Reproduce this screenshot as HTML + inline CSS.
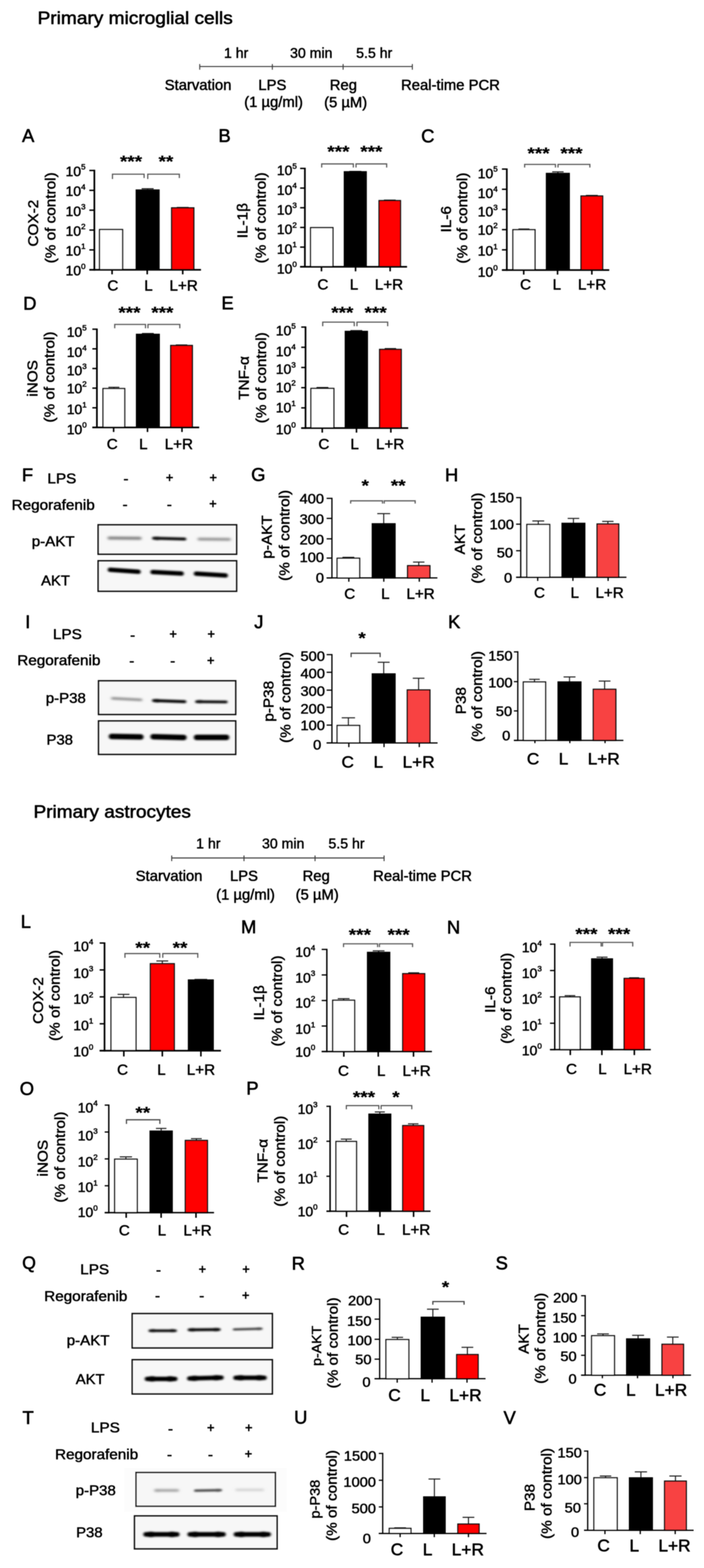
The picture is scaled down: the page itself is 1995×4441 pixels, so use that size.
<!DOCTYPE html>
<html lang="en">
<head>
<meta charset="utf-8">
<title>Regorafenib effects on LPS-induced responses in primary microglial cells and astrocytes</title>
<style>
html,body{margin:0;padding:0;background:#fff;}
body{width:1995px;height:4441px;overflow:hidden;}
svg{display:block;}
text{font-family:"Liberation Sans", sans-serif;fill:#000;stroke:#000;stroke-linejoin:round;}
</style>
</head>
<body>
<svg width="1995" height="4441" viewBox="0 0 1995 4441">
<defs>
<filter id="b1" x="-20%" y="-300%" width="140%" height="700%"><feGaussianBlur stdDeviation="3.2 2.3"/></filter>
<filter id="b2" x="-20%" y="-400%" width="140%" height="900%"><feGaussianBlur stdDeviation="4 3"/></filter>
<filter id="soft" x="0" y="0" width="100%" height="100%" filterUnits="objectBoundingBox"><feGaussianBlur stdDeviation="1.1"/></filter>
</defs>
<rect width="1995" height="4441" fill="#fff"/>
<g id="figure" filter="url(#soft)">
<rect x="282.1" y="650.2" width="65.3" height="113.9" fill="#fff" stroke="#0c0c0c" stroke-width="3.5" />
<line x1="418.4" y1="534.4" x2="418.4" y2="540.0" stroke="#222" stroke-width="3.0" stroke-linecap="butt"/>
<line x1="401.4" y1="534.4" x2="435.4" y2="534.4" stroke="#222" stroke-width="3.0" stroke-linecap="butt"/>
<rect x="386.1" y="538.2" width="64.6" height="225.9" fill="#000" stroke="#000" stroke-width="3.5" />
<line x1="517.8" y1="587.4" x2="517.8" y2="590.5" stroke="#222" stroke-width="3.0" stroke-linecap="butt"/>
<line x1="501.0" y1="587.4" x2="534.6" y2="587.4" stroke="#222" stroke-width="3.0" stroke-linecap="butt"/>
<rect x="486.4" y="588.7" width="62.9" height="175.4" fill="#ff0000" stroke="#0c0c0c" stroke-width="3.5" />
<line x1="267.4" y1="480.8" x2="267.4" y2="766.5" stroke="#000" stroke-width="4.8" stroke-linecap="butt"/>
<line x1="253.2" y1="764.1" x2="569.6" y2="764.1" stroke="#000" stroke-width="4.8" stroke-linecap="butt"/>
<line x1="253.2" y1="482.8" x2="267.4" y2="482.8" stroke="#000" stroke-width="4.0" stroke-linecap="butt"/>
<text transform="translate(242.5 498.9)" font-size="39.5" text-anchor="end" stroke-width="1.15">10<tspan dy="-18.6" font-size="22.9">5</tspan></text>
<line x1="253.2" y1="539.1" x2="267.4" y2="539.1" stroke="#000" stroke-width="4.0" stroke-linecap="butt"/>
<text transform="translate(242.5 555.2)" font-size="39.5" text-anchor="end" stroke-width="1.15">10<tspan dy="-18.6" font-size="22.9">4</tspan></text>
<line x1="253.2" y1="595.3" x2="267.4" y2="595.3" stroke="#000" stroke-width="4.0" stroke-linecap="butt"/>
<text transform="translate(242.5 611.5)" font-size="39.5" text-anchor="end" stroke-width="1.15">10<tspan dy="-18.6" font-size="22.9">3</tspan></text>
<line x1="253.2" y1="651.6" x2="267.4" y2="651.6" stroke="#000" stroke-width="4.0" stroke-linecap="butt"/>
<text transform="translate(242.5 667.7)" font-size="39.5" text-anchor="end" stroke-width="1.15">10<tspan dy="-18.6" font-size="22.9">2</tspan></text>
<line x1="253.2" y1="707.8" x2="267.4" y2="707.8" stroke="#000" stroke-width="4.0" stroke-linecap="butt"/>
<text transform="translate(242.5 724.0)" font-size="39.5" text-anchor="end" stroke-width="1.15">10<tspan dy="-18.6" font-size="22.9">1</tspan></text>
<line x1="253.2" y1="764.1" x2="267.4" y2="764.1" stroke="#000" stroke-width="4.0" stroke-linecap="butt"/>
<text transform="translate(242.5 780.2)" font-size="39.5" text-anchor="end" stroke-width="1.15">10<tspan dy="-18.6" font-size="22.9">0</tspan></text>
<line x1="317.6" y1="764.1" x2="317.6" y2="777.0" stroke="#000" stroke-width="4.4" stroke-linecap="butt"/>
<line x1="417.2" y1="764.1" x2="417.2" y2="777.0" stroke="#000" stroke-width="4.4" stroke-linecap="butt"/>
<line x1="517.8" y1="764.1" x2="517.8" y2="777.0" stroke="#000" stroke-width="4.4" stroke-linecap="butt"/>
<text transform="translate(319.7 823.0)" font-size="43" text-anchor="middle" stroke-width="1.25">C</text>
<text transform="translate(420.8 823.0)" font-size="43" text-anchor="middle" stroke-width="1.25">L</text>
<text transform="translate(520.4 823.0)" font-size="43" text-anchor="middle" stroke-width="1.25">L+R</text>
<text transform="translate(107.6 632.0) rotate(-90) scale(1.07 1)" font-size="40.5" text-anchor="middle" stroke-width="1.17">COX-2</text>
<text transform="translate(156.5 617.0) rotate(-90) scale(1.07 1)" font-size="40.5" text-anchor="middle" stroke-width="1.17">(% of control)</text>
<path d="M318.7 506.9V493.4H408.4V504.3" fill="none" stroke="#5c5c5c" stroke-width="3.4" />
<path d="M418.7 506.9V493.4H508.2V504.3" fill="none" stroke="#5c5c5c" stroke-width="3.4" />
<text transform="translate(371.3 472.8) scale(1.17 1)" font-size="46" text-anchor="middle" font-weight="bold" stroke-width="0.5">***</text>
<text transform="translate(470.2 472.8) scale(1.17 1)" font-size="46" text-anchor="middle" font-weight="bold" stroke-width="0.5">**</text>
<text transform="translate(62.5 402.0)" font-size="52" text-anchor="start" stroke-width="1.51">A</text>
<line x1="911.9" y1="644.4" x2="911.9" y2="646.5" stroke="#222" stroke-width="3.0" stroke-linecap="butt"/>
<line x1="894.5" y1="644.4" x2="929.3" y2="644.4" stroke="#222" stroke-width="3.0" stroke-linecap="butt"/>
<rect x="880.2" y="644.7" width="63.3" height="110.9" fill="#fff" stroke="#0c0c0c" stroke-width="3.5" />
<line x1="1006.8" y1="485.4" x2="1006.8" y2="488.3" stroke="#222" stroke-width="3.0" stroke-linecap="butt"/>
<line x1="989.7" y1="485.4" x2="1023.8" y2="485.4" stroke="#222" stroke-width="3.0" stroke-linecap="butt"/>
<rect x="975.8" y="486.5" width="62.0" height="269.1" fill="#000" stroke="#000" stroke-width="3.5" />
<line x1="1104.6" y1="566.7" x2="1104.6" y2="570.0" stroke="#222" stroke-width="3.0" stroke-linecap="butt"/>
<line x1="1087.9" y1="566.7" x2="1121.3" y2="566.7" stroke="#222" stroke-width="3.0" stroke-linecap="butt"/>
<rect x="1074.2" y="568.2" width="60.7" height="187.4" fill="#ff0000" stroke="#0c0c0c" stroke-width="3.5" />
<line x1="864.0" y1="475.0" x2="864.0" y2="758.0" stroke="#000" stroke-width="4.8" stroke-linecap="butt"/>
<line x1="850.5" y1="755.6" x2="1153.5" y2="755.6" stroke="#000" stroke-width="4.8" stroke-linecap="butt"/>
<line x1="850.5" y1="477.0" x2="864.0" y2="477.0" stroke="#000" stroke-width="4.0" stroke-linecap="butt"/>
<text transform="translate(841.2 496.1)" font-size="39.5" text-anchor="end" stroke-width="1.15">10<tspan dy="-18.6" font-size="22.9">5</tspan></text>
<line x1="850.5" y1="532.7" x2="864.0" y2="532.7" stroke="#000" stroke-width="4.0" stroke-linecap="butt"/>
<text transform="translate(841.2 551.9)" font-size="39.5" text-anchor="end" stroke-width="1.15">10<tspan dy="-18.6" font-size="22.9">4</tspan></text>
<line x1="850.5" y1="588.4" x2="864.0" y2="588.4" stroke="#000" stroke-width="4.0" stroke-linecap="butt"/>
<text transform="translate(841.2 607.6)" font-size="39.5" text-anchor="end" stroke-width="1.15">10<tspan dy="-18.6" font-size="22.9">3</tspan></text>
<line x1="850.5" y1="644.2" x2="864.0" y2="644.2" stroke="#000" stroke-width="4.0" stroke-linecap="butt"/>
<text transform="translate(841.2 663.3)" font-size="39.5" text-anchor="end" stroke-width="1.15">10<tspan dy="-18.6" font-size="22.9">2</tspan></text>
<line x1="850.5" y1="699.9" x2="864.0" y2="699.9" stroke="#000" stroke-width="4.0" stroke-linecap="butt"/>
<text transform="translate(841.2 719.0)" font-size="39.5" text-anchor="end" stroke-width="1.15">10<tspan dy="-18.6" font-size="22.9">1</tspan></text>
<line x1="850.5" y1="755.6" x2="864.0" y2="755.6" stroke="#000" stroke-width="4.0" stroke-linecap="butt"/>
<text transform="translate(841.2 774.7)" font-size="39.5" text-anchor="end" stroke-width="1.15">10<tspan dy="-18.6" font-size="22.9">0</tspan></text>
<line x1="911.0" y1="755.6" x2="911.0" y2="768.5" stroke="#000" stroke-width="4.4" stroke-linecap="butt"/>
<line x1="1007.6" y1="755.6" x2="1007.6" y2="768.5" stroke="#000" stroke-width="4.4" stroke-linecap="butt"/>
<line x1="1105.6" y1="755.6" x2="1105.6" y2="768.5" stroke="#000" stroke-width="4.4" stroke-linecap="butt"/>
<text transform="translate(915.0 819.5)" font-size="43" text-anchor="middle" stroke-width="1.25">C</text>
<text transform="translate(1003.3 819.5)" font-size="43" text-anchor="middle" stroke-width="1.25">L</text>
<text transform="translate(1102.3 819.5)" font-size="43" text-anchor="middle" stroke-width="1.25">L+R</text>
<text transform="translate(700.6 625.0) rotate(-90) scale(1.07 1)" font-size="40.5" text-anchor="middle" stroke-width="1.17">IL-1β</text>
<text transform="translate(753.4 617.0) rotate(-90) scale(1.07 1)" font-size="40.5" text-anchor="middle" stroke-width="1.17">(% of control)</text>
<path d="M911.6 474.6V464.3H1001.3V474.6" fill="none" stroke="#5c5c5c" stroke-width="3.4" />
<path d="M1008.9 474.6V464.3H1095.7V474.6" fill="none" stroke="#5c5c5c" stroke-width="3.4" />
<text transform="translate(959.0 445.1) scale(1.17 1)" font-size="46" text-anchor="middle" font-weight="bold" stroke-width="0.5">***</text>
<text transform="translate(1052.4 445.1) scale(1.17 1)" font-size="46" text-anchor="middle" font-weight="bold" stroke-width="0.5">***</text>
<text transform="translate(619.0 402.0)" font-size="52" text-anchor="start" stroke-width="1.51">B</text>
<line x1="1484.8" y1="648.7" x2="1484.8" y2="652.4" stroke="#222" stroke-width="3.0" stroke-linecap="butt"/>
<line x1="1469.2" y1="648.7" x2="1500.2" y2="648.7" stroke="#222" stroke-width="3.0" stroke-linecap="butt"/>
<rect x="1453.5" y="650.6" width="62.6" height="114.2" fill="#fff" stroke="#0c0c0c" stroke-width="3.5" />
<line x1="1580.9" y1="486.7" x2="1580.9" y2="493.0" stroke="#222" stroke-width="3.0" stroke-linecap="butt"/>
<line x1="1564.7" y1="486.7" x2="1597.2" y2="486.7" stroke="#222" stroke-width="3.0" stroke-linecap="butt"/>
<rect x="1548.5" y="491.2" width="64.7" height="273.6" fill="#000" stroke="#000" stroke-width="3.5" />
<line x1="1677.2" y1="553.6" x2="1677.2" y2="557.0" stroke="#222" stroke-width="3.0" stroke-linecap="butt"/>
<line x1="1660.3" y1="553.6" x2="1694.0" y2="553.6" stroke="#222" stroke-width="3.0" stroke-linecap="butt"/>
<rect x="1646.5" y="555.2" width="61.3" height="209.6" fill="#ff0000" stroke="#0c0c0c" stroke-width="3.5" />
<line x1="1436.2" y1="476.9" x2="1436.2" y2="767.2" stroke="#000" stroke-width="4.8" stroke-linecap="butt"/>
<line x1="1422.4" y1="764.8" x2="1726.5" y2="764.8" stroke="#000" stroke-width="4.8" stroke-linecap="butt"/>
<line x1="1422.4" y1="478.9" x2="1436.2" y2="478.9" stroke="#000" stroke-width="4.0" stroke-linecap="butt"/>
<text transform="translate(1410.5 504.6)" font-size="39.5" text-anchor="end" stroke-width="1.15">10<tspan dy="-18.6" font-size="22.9">5</tspan></text>
<line x1="1422.4" y1="536.1" x2="1436.2" y2="536.1" stroke="#000" stroke-width="4.0" stroke-linecap="butt"/>
<text transform="translate(1410.5 561.1)" font-size="39.5" text-anchor="end" stroke-width="1.15">10<tspan dy="-18.6" font-size="22.9">4</tspan></text>
<line x1="1422.4" y1="593.3" x2="1436.2" y2="593.3" stroke="#000" stroke-width="4.0" stroke-linecap="butt"/>
<text transform="translate(1410.5 613.1)" font-size="39.5" text-anchor="end" stroke-width="1.15">10<tspan dy="-18.6" font-size="22.9">3</tspan></text>
<line x1="1422.4" y1="650.4" x2="1436.2" y2="650.4" stroke="#000" stroke-width="4.0" stroke-linecap="butt"/>
<text transform="translate(1410.5 664.6)" font-size="39.5" text-anchor="end" stroke-width="1.15">10<tspan dy="-18.6" font-size="22.9">2</tspan></text>
<line x1="1422.4" y1="707.6" x2="1436.2" y2="707.6" stroke="#000" stroke-width="4.0" stroke-linecap="butt"/>
<text transform="translate(1410.5 724.1)" font-size="39.5" text-anchor="end" stroke-width="1.15">10<tspan dy="-18.6" font-size="22.9">1</tspan></text>
<line x1="1422.4" y1="764.8" x2="1436.2" y2="764.8" stroke="#000" stroke-width="4.0" stroke-linecap="butt"/>
<text transform="translate(1410.5 784.1)" font-size="39.5" text-anchor="end" stroke-width="1.15">10<tspan dy="-18.6" font-size="22.9">0</tspan></text>
<line x1="1484.1" y1="764.8" x2="1484.1" y2="777.7" stroke="#000" stroke-width="4.4" stroke-linecap="butt"/>
<line x1="1580.0" y1="764.8" x2="1580.0" y2="777.7" stroke="#000" stroke-width="4.4" stroke-linecap="butt"/>
<line x1="1677.2" y1="764.8" x2="1677.2" y2="777.7" stroke="#000" stroke-width="4.4" stroke-linecap="butt"/>
<text transform="translate(1489.3 819.5)" font-size="43" text-anchor="middle" stroke-width="1.25">C</text>
<text transform="translate(1578.0 819.5)" font-size="43" text-anchor="middle" stroke-width="1.25">L</text>
<text transform="translate(1677.9 819.5)" font-size="43" text-anchor="middle" stroke-width="1.25">L+R</text>
<text transform="translate(1278.1 621.0) rotate(-90) scale(1.07 1)" font-size="40.5" text-anchor="middle" stroke-width="1.17">IL-6</text>
<text transform="translate(1324.0 617.7) rotate(-90) scale(1.07 1)" font-size="40.5" text-anchor="middle" stroke-width="1.17">(% of control)</text>
<path d="M1486.7 474.6V465.6H1574.0V474.6" fill="none" stroke="#5c5c5c" stroke-width="3.4" />
<path d="M1581.3 474.6V465.6H1671.5V474.6" fill="none" stroke="#5c5c5c" stroke-width="3.4" />
<text transform="translate(1526.2 449.9) scale(1.17 1)" font-size="46" text-anchor="middle" font-weight="bold" stroke-width="0.5">***</text>
<text transform="translate(1619.5 449.9) scale(1.17 1)" font-size="46" text-anchor="middle" font-weight="bold" stroke-width="0.5">***</text>
<text transform="translate(1193.6 402.5)" font-size="52" text-anchor="start" stroke-width="1.51">C</text>
<line x1="322.7" y1="1096.9" x2="322.7" y2="1102.3" stroke="#222" stroke-width="3.0" stroke-linecap="butt"/>
<line x1="307.2" y1="1096.9" x2="338.2" y2="1096.9" stroke="#222" stroke-width="3.0" stroke-linecap="butt"/>
<rect x="291.9" y="1100.5" width="61.5" height="110.1" fill="#fff" stroke="#0c0c0c" stroke-width="3.5" />
<line x1="419.0" y1="944.4" x2="419.0" y2="948.7" stroke="#222" stroke-width="3.0" stroke-linecap="butt"/>
<line x1="402.1" y1="944.4" x2="435.9" y2="944.4" stroke="#222" stroke-width="3.0" stroke-linecap="butt"/>
<rect x="386.8" y="946.9" width="64.5" height="263.7" fill="#000" stroke="#000" stroke-width="3.5" />
<line x1="514.4" y1="977.1" x2="514.4" y2="980.3" stroke="#222" stroke-width="3.0" stroke-linecap="butt"/>
<line x1="498.2" y1="977.1" x2="530.6" y2="977.1" stroke="#222" stroke-width="3.0" stroke-linecap="butt"/>
<rect x="483.8" y="978.5" width="61.3" height="232.1" fill="#ff0000" stroke="#0c0c0c" stroke-width="3.5" />
<line x1="274.6" y1="930.4" x2="274.6" y2="1213.0" stroke="#000" stroke-width="4.8" stroke-linecap="butt"/>
<line x1="261.7" y1="1210.6" x2="564.5" y2="1210.6" stroke="#000" stroke-width="4.8" stroke-linecap="butt"/>
<line x1="261.7" y1="932.4" x2="274.6" y2="932.4" stroke="#000" stroke-width="4.0" stroke-linecap="butt"/>
<text transform="translate(245.8 954.3)" font-size="39.5" text-anchor="end" stroke-width="1.15">10<tspan dy="-18.6" font-size="22.9">5</tspan></text>
<line x1="261.7" y1="988.0" x2="274.6" y2="988.0" stroke="#000" stroke-width="4.0" stroke-linecap="butt"/>
<text transform="translate(245.8 1011.3)" font-size="39.5" text-anchor="end" stroke-width="1.15">10<tspan dy="-18.6" font-size="22.9">4</tspan></text>
<line x1="261.7" y1="1043.7" x2="274.6" y2="1043.7" stroke="#000" stroke-width="4.0" stroke-linecap="butt"/>
<text transform="translate(245.8 1063.2)" font-size="39.5" text-anchor="end" stroke-width="1.15">10<tspan dy="-18.6" font-size="22.9">3</tspan></text>
<line x1="261.7" y1="1099.3" x2="274.6" y2="1099.3" stroke="#000" stroke-width="4.0" stroke-linecap="butt"/>
<text transform="translate(245.8 1113.7)" font-size="39.5" text-anchor="end" stroke-width="1.15">10<tspan dy="-18.6" font-size="22.9">2</tspan></text>
<line x1="261.7" y1="1155.0" x2="274.6" y2="1155.0" stroke="#000" stroke-width="4.0" stroke-linecap="butt"/>
<text transform="translate(245.8 1172.9)" font-size="39.5" text-anchor="end" stroke-width="1.15">10<tspan dy="-18.6" font-size="22.9">1</tspan></text>
<line x1="261.7" y1="1210.6" x2="274.6" y2="1210.6" stroke="#000" stroke-width="4.0" stroke-linecap="butt"/>
<text transform="translate(245.8 1229.9)" font-size="39.5" text-anchor="end" stroke-width="1.15">10<tspan dy="-18.6" font-size="22.9">0</tspan></text>
<line x1="322.0" y1="1210.6" x2="322.0" y2="1223.5" stroke="#000" stroke-width="4.4" stroke-linecap="butt"/>
<line x1="418.0" y1="1210.6" x2="418.0" y2="1223.5" stroke="#000" stroke-width="4.4" stroke-linecap="butt"/>
<line x1="515.7" y1="1210.6" x2="515.7" y2="1223.5" stroke="#000" stroke-width="4.4" stroke-linecap="butt"/>
<text transform="translate(318.1 1272.1)" font-size="43" text-anchor="middle" stroke-width="1.25">C</text>
<text transform="translate(406.1 1272.1)" font-size="43" text-anchor="middle" stroke-width="1.25">L</text>
<text transform="translate(506.8 1272.1)" font-size="43" text-anchor="middle" stroke-width="1.25">L+R</text>
<text transform="translate(105.7 1071.8) rotate(-90) scale(1.07 1)" font-size="40.5" text-anchor="middle" stroke-width="1.17">iNOS</text>
<text transform="translate(154.0 1067.9) rotate(-90) scale(1.07 1)" font-size="40.5" text-anchor="middle" stroke-width="1.17">(% of control)</text>
<path d="M325.1 929.8V918.9H412.3V929.8" fill="none" stroke="#5c5c5c" stroke-width="3.4" />
<path d="M419.3 929.8V918.9H509.5V929.8" fill="none" stroke="#5c5c5c" stroke-width="3.4" />
<text transform="translate(366.8 901.3) scale(1.17 1)" font-size="46" text-anchor="middle" font-weight="bold" stroke-width="0.5">***</text>
<text transform="translate(460.1 901.3) scale(1.17 1)" font-size="46" text-anchor="middle" font-weight="bold" stroke-width="0.5">***</text>
<text transform="translate(65.7 876.5)" font-size="52" text-anchor="start" stroke-width="1.51">D</text>
<line x1="913.7" y1="1097.4" x2="913.7" y2="1102.0" stroke="#222" stroke-width="3.0" stroke-linecap="butt"/>
<line x1="896.9" y1="1097.4" x2="930.6" y2="1097.4" stroke="#222" stroke-width="3.0" stroke-linecap="butt"/>
<rect x="881.2" y="1100.2" width="64.9" height="112.2" fill="#fff" stroke="#0c0c0c" stroke-width="3.5" />
<line x1="1009.8" y1="936.2" x2="1009.8" y2="940.4" stroke="#222" stroke-width="3.0" stroke-linecap="butt"/>
<line x1="992.9" y1="936.2" x2="1026.6" y2="936.2" stroke="#222" stroke-width="3.0" stroke-linecap="butt"/>
<rect x="978.5" y="938.6" width="62.6" height="273.8" fill="#000" stroke="#000" stroke-width="3.5" />
<line x1="1106.3" y1="987.3" x2="1106.3" y2="991.4" stroke="#222" stroke-width="3.0" stroke-linecap="butt"/>
<line x1="1090.1" y1="987.3" x2="1122.5" y2="987.3" stroke="#222" stroke-width="3.0" stroke-linecap="butt"/>
<rect x="1075.7" y="989.6" width="61.3" height="222.8" fill="#ff0000" stroke="#0c0c0c" stroke-width="3.5" />
<line x1="865.8" y1="924.4" x2="865.8" y2="1214.8" stroke="#000" stroke-width="4.8" stroke-linecap="butt"/>
<line x1="853.6" y1="1212.4" x2="1156.9" y2="1212.4" stroke="#000" stroke-width="4.8" stroke-linecap="butt"/>
<line x1="853.6" y1="926.4" x2="865.8" y2="926.4" stroke="#000" stroke-width="4.0" stroke-linecap="butt"/>
<text transform="translate(838.2 949.9)" font-size="39.5" text-anchor="end" stroke-width="1.15">10<tspan dy="-18.6" font-size="22.9">5</tspan></text>
<line x1="853.6" y1="983.6" x2="865.8" y2="983.6" stroke="#000" stroke-width="4.0" stroke-linecap="butt"/>
<text transform="translate(838.2 1008.7)" font-size="39.5" text-anchor="end" stroke-width="1.15">10<tspan dy="-18.6" font-size="22.9">4</tspan></text>
<line x1="853.6" y1="1040.8" x2="865.8" y2="1040.8" stroke="#000" stroke-width="4.0" stroke-linecap="butt"/>
<text transform="translate(838.2 1059.3)" font-size="39.5" text-anchor="end" stroke-width="1.15">10<tspan dy="-18.6" font-size="22.9">3</tspan></text>
<line x1="853.6" y1="1098.0" x2="865.8" y2="1098.0" stroke="#000" stroke-width="4.0" stroke-linecap="butt"/>
<text transform="translate(838.2 1110.6)" font-size="39.5" text-anchor="end" stroke-width="1.15">10<tspan dy="-18.6" font-size="22.9">2</tspan></text>
<line x1="853.6" y1="1155.2" x2="865.8" y2="1155.2" stroke="#000" stroke-width="4.0" stroke-linecap="butt"/>
<text transform="translate(838.2 1168.2)" font-size="39.5" text-anchor="end" stroke-width="1.15">10<tspan dy="-18.6" font-size="22.9">1</tspan></text>
<line x1="853.6" y1="1212.4" x2="865.8" y2="1212.4" stroke="#000" stroke-width="4.0" stroke-linecap="butt"/>
<text transform="translate(838.2 1229.9)" font-size="39.5" text-anchor="end" stroke-width="1.15">10<tspan dy="-18.6" font-size="22.9">0</tspan></text>
<line x1="913.2" y1="1212.4" x2="913.2" y2="1225.3" stroke="#000" stroke-width="4.4" stroke-linecap="butt"/>
<line x1="1010.2" y1="1212.4" x2="1010.2" y2="1225.3" stroke="#000" stroke-width="4.4" stroke-linecap="butt"/>
<line x1="1107.6" y1="1212.4" x2="1107.6" y2="1225.3" stroke="#000" stroke-width="4.4" stroke-linecap="butt"/>
<text transform="translate(917.9 1272.1)" font-size="43" text-anchor="middle" stroke-width="1.25">C</text>
<text transform="translate(1005.0 1272.1)" font-size="43" text-anchor="middle" stroke-width="1.25">L</text>
<text transform="translate(1105.6 1272.1)" font-size="43" text-anchor="middle" stroke-width="1.25">L+R</text>
<text transform="translate(704.6 1070.5) rotate(-90) scale(1.07 1)" font-size="40.5" text-anchor="middle" stroke-width="1.17">TNF-α</text>
<text transform="translate(754.1 1069.8) rotate(-90) scale(1.07 1)" font-size="40.5" text-anchor="middle" stroke-width="1.17">(% of control)</text>
<path d="M914.5 923.9V912.4H1003.9V923.9" fill="none" stroke="#5c5c5c" stroke-width="3.4" />
<path d="M1011.5 923.9V912.4H1098.6V923.9" fill="none" stroke="#5c5c5c" stroke-width="3.4" />
<text transform="translate(970.1 901.3) scale(1.17 1)" font-size="46" text-anchor="middle" font-weight="bold" stroke-width="0.5">***</text>
<text transform="translate(1064.5 901.3) scale(1.17 1)" font-size="46" text-anchor="middle" font-weight="bold" stroke-width="0.5">***</text>
<text transform="translate(627.5 876.0)" font-size="52" text-anchor="start" stroke-width="1.51">E</text>
<line x1="987.2" y1="1578.4" x2="987.2" y2="1583.0" stroke="#222" stroke-width="3.0" stroke-linecap="butt"/>
<line x1="970.4" y1="1578.4" x2="1004.1" y2="1578.4" stroke="#222" stroke-width="3.0" stroke-linecap="butt"/>
<rect x="955.4" y="1581.2" width="63.8" height="55.6" fill="#fff" stroke="#0c0c0c" stroke-width="3.5" />
<line x1="1087.3" y1="1454.7" x2="1087.3" y2="1485.3" stroke="#222" stroke-width="3.0" stroke-linecap="butt"/>
<line x1="1069.1" y1="1454.7" x2="1105.5" y2="1454.7" stroke="#222" stroke-width="3.0" stroke-linecap="butt"/>
<rect x="1055.0" y="1483.5" width="64.5" height="153.3" fill="#000" stroke="#000" stroke-width="3.5" />
<line x1="1186.6" y1="1591.9" x2="1186.6" y2="1604.0" stroke="#222" stroke-width="3.0" stroke-linecap="butt"/>
<line x1="1170.5" y1="1591.9" x2="1202.7" y2="1591.9" stroke="#222" stroke-width="3.0" stroke-linecap="butt"/>
<rect x="1155.0" y="1602.2" width="63.3" height="34.6" fill="#f84242" stroke="#0c0c0c" stroke-width="3.5" />
<line x1="940.6" y1="1409.8" x2="940.6" y2="1638.6" stroke="#000" stroke-width="3.6" stroke-linecap="butt"/>
<line x1="925.6" y1="1636.8" x2="1239.5" y2="1636.8" stroke="#000" stroke-width="3.6" stroke-linecap="butt"/>
<line x1="925.6" y1="1411.5" x2="940.6" y2="1411.5" stroke="#000" stroke-width="3.4" stroke-linecap="butt"/>
<text transform="translate(918.1 1425.9) scale(1.05 1)" font-size="39.5" text-anchor="end" stroke-width="1.15">400</text>
<line x1="925.6" y1="1468.3" x2="940.6" y2="1468.3" stroke="#000" stroke-width="3.4" stroke-linecap="butt"/>
<text transform="translate(918.1 1484.0) scale(1.05 1)" font-size="39.5" text-anchor="end" stroke-width="1.15">300</text>
<line x1="925.6" y1="1526.1" x2="940.6" y2="1526.1" stroke="#000" stroke-width="3.4" stroke-linecap="butt"/>
<text transform="translate(918.1 1541.5) scale(1.05 1)" font-size="39.5" text-anchor="end" stroke-width="1.15">200</text>
<line x1="925.6" y1="1580.6" x2="940.6" y2="1580.6" stroke="#000" stroke-width="3.4" stroke-linecap="butt"/>
<text transform="translate(918.1 1592.1) scale(1.05 1)" font-size="39.5" text-anchor="end" stroke-width="1.15">100</text>
<line x1="925.6" y1="1636.8" x2="940.6" y2="1636.8" stroke="#000" stroke-width="3.4" stroke-linecap="butt"/>
<text transform="translate(918.1 1649.9) scale(1.05 1)" font-size="39.5" text-anchor="end" stroke-width="1.15">0</text>
<line x1="988.5" y1="1636.8" x2="988.5" y2="1647.6" stroke="#000" stroke-width="3.6" stroke-linecap="butt"/>
<line x1="1087.6" y1="1636.8" x2="1087.6" y2="1647.6" stroke="#000" stroke-width="3.6" stroke-linecap="butt"/>
<line x1="1188.2" y1="1636.8" x2="1188.2" y2="1647.6" stroke="#000" stroke-width="3.6" stroke-linecap="butt"/>
<text transform="translate(991.1 1696.0)" font-size="43" text-anchor="middle" stroke-width="1.25">C</text>
<text transform="translate(1092.0 1696.0)" font-size="43" text-anchor="middle" stroke-width="1.25">L</text>
<text transform="translate(1191.8 1696.0)" font-size="43" text-anchor="middle" stroke-width="1.25">L+R</text>
<text transform="translate(770.0 1521.0) rotate(-90) scale(1.07 1)" font-size="40.5" text-anchor="middle" stroke-width="1.17">p-AKT</text>
<text transform="translate(819.5 1516.4) rotate(-90) scale(1.07 1)" font-size="40.5" text-anchor="middle" stroke-width="1.17">(% of control)</text>
<path d="M993.7 1426.3V1418.5H1083.9V1426.3" fill="none" stroke="#5c5c5c" stroke-width="3.4" />
<path d="M1088.9 1426.3V1418.5H1176.5V1426.3" fill="none" stroke="#5c5c5c" stroke-width="3.4" />
<text transform="translate(1035.0 1390.6) scale(1.17 1)" font-size="46" text-anchor="middle" font-weight="bold" stroke-width="0.5">*</text>
<text transform="translate(1128.5 1390.6) scale(1.17 1)" font-size="46" text-anchor="middle" font-weight="bold" stroke-width="0.5">**</text>
<text transform="translate(711.7 1362.0)" font-size="52" text-anchor="start" stroke-width="1.51">G</text>
<line x1="1525.4" y1="1475.4" x2="1525.4" y2="1487.2" stroke="#222" stroke-width="3.0" stroke-linecap="butt"/>
<line x1="1508.6" y1="1475.4" x2="1542.2" y2="1475.4" stroke="#222" stroke-width="3.0" stroke-linecap="butt"/>
<rect x="1493.0" y="1485.4" width="64.7" height="149.6" fill="#fff" stroke="#0c0c0c" stroke-width="3.5" />
<line x1="1625.0" y1="1468.2" x2="1625.0" y2="1484.0" stroke="#222" stroke-width="3.0" stroke-linecap="butt"/>
<line x1="1608.7" y1="1468.2" x2="1641.4" y2="1468.2" stroke="#222" stroke-width="3.0" stroke-linecap="butt"/>
<rect x="1592.8" y="1482.2" width="64.4" height="152.8" fill="#000" stroke="#000" stroke-width="3.5" />
<line x1="1722.6" y1="1476.7" x2="1722.6" y2="1485.9" stroke="#222" stroke-width="3.0" stroke-linecap="butt"/>
<line x1="1706.5" y1="1476.7" x2="1738.6" y2="1476.7" stroke="#222" stroke-width="3.0" stroke-linecap="butt"/>
<rect x="1692.0" y="1484.1" width="61.3" height="150.9" fill="#f84242" stroke="#0c0c0c" stroke-width="3.5" />
<line x1="1475.6" y1="1407.7" x2="1475.6" y2="1636.8" stroke="#000" stroke-width="3.6" stroke-linecap="butt"/>
<line x1="1462.6" y1="1635.0" x2="1775.2" y2="1635.0" stroke="#000" stroke-width="3.6" stroke-linecap="butt"/>
<line x1="1462.6" y1="1409.4" x2="1475.6" y2="1409.4" stroke="#000" stroke-width="3.4" stroke-linecap="butt"/>
<text transform="translate(1456.4 1422.8) scale(1.05 1)" font-size="39.5" text-anchor="end" stroke-width="1.15">150</text>
<line x1="1462.6" y1="1484.6" x2="1475.6" y2="1484.6" stroke="#000" stroke-width="3.4" stroke-linecap="butt"/>
<text transform="translate(1456.4 1498.7) scale(1.05 1)" font-size="39.5" text-anchor="end" stroke-width="1.15">100</text>
<line x1="1462.6" y1="1559.8" x2="1475.6" y2="1559.8" stroke="#000" stroke-width="3.4" stroke-linecap="butt"/>
<text transform="translate(1453.8 1579.1) scale(1.05 1)" font-size="39.5" text-anchor="end" stroke-width="1.15">50</text>
<line x1="1462.6" y1="1635.0" x2="1475.6" y2="1635.0" stroke="#000" stroke-width="3.4" stroke-linecap="butt"/>
<text transform="translate(1451.2 1649.9) scale(1.05 1)" font-size="39.5" text-anchor="end" stroke-width="1.15">0</text>
<line x1="1523.7" y1="1635.0" x2="1523.7" y2="1645.3" stroke="#000" stroke-width="3.6" stroke-linecap="butt"/>
<line x1="1623.5" y1="1635.0" x2="1623.5" y2="1645.3" stroke="#000" stroke-width="3.6" stroke-linecap="butt"/>
<line x1="1723.3" y1="1635.0" x2="1723.3" y2="1645.3" stroke="#000" stroke-width="3.6" stroke-linecap="butt"/>
<text transform="translate(1528.9 1692.6)" font-size="43" text-anchor="middle" stroke-width="1.25">C</text>
<text transform="translate(1628.6 1692.6)" font-size="43" text-anchor="middle" stroke-width="1.25">L</text>
<text transform="translate(1727.5 1692.6)" font-size="43" text-anchor="middle" stroke-width="1.25">L+R</text>
<text transform="translate(1317.0 1528.0) rotate(-90) scale(1.07 1)" font-size="40.5" text-anchor="middle" stroke-width="1.17">AKT</text>
<text transform="translate(1365.6 1524.2) rotate(-90) scale(1.07 1)" font-size="40.5" text-anchor="middle" stroke-width="1.17">(% of control)</text>
<text transform="translate(1261.0 1362.5)" font-size="52" text-anchor="start" stroke-width="1.51">H</text>
<line x1="987.2" y1="2032.9" x2="987.2" y2="2056.5" stroke="#222" stroke-width="3.0" stroke-linecap="butt"/>
<line x1="968.4" y1="2032.9" x2="1006.1" y2="2032.9" stroke="#222" stroke-width="3.0" stroke-linecap="butt"/>
<rect x="955.4" y="2054.7" width="63.8" height="49.6" fill="#fff" stroke="#0c0c0c" stroke-width="3.5" />
<line x1="1087.3" y1="1875.7" x2="1087.3" y2="1910.5" stroke="#222" stroke-width="3.0" stroke-linecap="butt"/>
<line x1="1070.5" y1="1875.7" x2="1104.1" y2="1875.7" stroke="#222" stroke-width="3.0" stroke-linecap="butt"/>
<rect x="1055.0" y="1908.7" width="64.5" height="195.6" fill="#000" stroke="#000" stroke-width="3.5" />
<line x1="1186.2" y1="1921.1" x2="1186.2" y2="1955.9" stroke="#222" stroke-width="3.0" stroke-linecap="butt"/>
<line x1="1169.7" y1="1921.1" x2="1202.7" y2="1921.1" stroke="#222" stroke-width="3.0" stroke-linecap="butt"/>
<rect x="1154.2" y="1954.1" width="64.1" height="150.2" fill="#f84242" stroke="#0c0c0c" stroke-width="3.5" />
<line x1="940.6" y1="1852.4" x2="940.6" y2="2106.1" stroke="#000" stroke-width="3.6" stroke-linecap="butt"/>
<line x1="925.6" y1="2104.3" x2="1240.0" y2="2104.3" stroke="#000" stroke-width="3.6" stroke-linecap="butt"/>
<line x1="925.6" y1="1854.1" x2="940.6" y2="1854.1" stroke="#000" stroke-width="3.4" stroke-linecap="butt"/>
<text transform="translate(920.7 1872.1) scale(1.05 1)" font-size="39.5" text-anchor="end" stroke-width="1.15">500</text>
<line x1="925.6" y1="1904.1" x2="940.6" y2="1904.1" stroke="#000" stroke-width="3.4" stroke-linecap="butt"/>
<text transform="translate(920.7 1920.8) scale(1.05 1)" font-size="39.5" text-anchor="end" stroke-width="1.15">400</text>
<line x1="925.6" y1="1954.7" x2="940.6" y2="1954.7" stroke="#000" stroke-width="3.4" stroke-linecap="butt"/>
<text transform="translate(920.7 1971.4) scale(1.05 1)" font-size="39.5" text-anchor="end" stroke-width="1.15">300</text>
<line x1="925.6" y1="2003.2" x2="940.6" y2="2003.2" stroke="#000" stroke-width="3.4" stroke-linecap="butt"/>
<text transform="translate(920.7 2021.1) scale(1.05 1)" font-size="39.5" text-anchor="end" stroke-width="1.15">200</text>
<line x1="925.6" y1="2053.7" x2="940.6" y2="2053.7" stroke="#000" stroke-width="3.4" stroke-linecap="butt"/>
<text transform="translate(920.7 2067.8) scale(1.05 1)" font-size="39.5" text-anchor="end" stroke-width="1.15">100</text>
<line x1="925.6" y1="2104.3" x2="940.6" y2="2104.3" stroke="#000" stroke-width="3.4" stroke-linecap="butt"/>
<text transform="translate(910.3 2122.8) scale(1.05 1)" font-size="39.5" text-anchor="end" stroke-width="1.15">0</text>
<line x1="988.5" y1="2104.3" x2="988.5" y2="2116.1" stroke="#000" stroke-width="3.6" stroke-linecap="butt"/>
<line x1="1088.3" y1="2104.3" x2="1088.3" y2="2116.1" stroke="#000" stroke-width="3.6" stroke-linecap="butt"/>
<line x1="1188.2" y1="2104.3" x2="1188.2" y2="2116.1" stroke="#000" stroke-width="3.6" stroke-linecap="butt"/>
<text transform="translate(985.3 2173.5) scale(1.06 1)" font-size="46" text-anchor="middle" stroke-width="1.33">C</text>
<text transform="translate(1072.0 2173.5) scale(1.06 1)" font-size="46" text-anchor="middle" stroke-width="1.33">L</text>
<text transform="translate(1186.2 2173.5) scale(1.06 1)" font-size="46" text-anchor="middle" stroke-width="1.33">L+R</text>
<text transform="translate(775.2 1986.3) rotate(-90) scale(1.07 1)" font-size="40.5" text-anchor="middle" stroke-width="1.17">p-P38</text>
<text transform="translate(823.4 1975.3) rotate(-90) scale(1.07 1)" font-size="40.5" text-anchor="middle" stroke-width="1.17">(% of control)</text>
<path d="M995.0 1861.3V1850.2H1077.2V1861.3" fill="none" stroke="#444" stroke-width="3.4" />
<text transform="translate(1025.9 1822.8) scale(1.17 1)" font-size="46" text-anchor="middle" font-weight="bold" stroke-width="0.5">*</text>
<text transform="translate(720.5 1778.5)" font-size="52" text-anchor="start" stroke-width="1.51">J</text>
<line x1="1514.6" y1="1924.0" x2="1514.6" y2="1933.3" stroke="#222" stroke-width="3.0" stroke-linecap="butt"/>
<line x1="1499.6" y1="1924.0" x2="1529.6" y2="1924.0" stroke="#222" stroke-width="3.0" stroke-linecap="butt"/>
<rect x="1483.0" y="1931.5" width="63.1" height="165.5" fill="#fff" stroke="#0c0c0c" stroke-width="3.5" />
<line x1="1613.9" y1="1917.2" x2="1613.9" y2="1933.3" stroke="#222" stroke-width="3.0" stroke-linecap="butt"/>
<line x1="1597.1" y1="1917.2" x2="1630.8" y2="1917.2" stroke="#222" stroke-width="3.0" stroke-linecap="butt"/>
<rect x="1581.5" y="1931.5" width="64.7" height="165.5" fill="#000" stroke="#000" stroke-width="3.5" />
<line x1="1713.3" y1="1928.9" x2="1713.3" y2="1954.1" stroke="#222" stroke-width="3.0" stroke-linecap="butt"/>
<line x1="1696.7" y1="1928.9" x2="1729.9" y2="1928.9" stroke="#222" stroke-width="3.0" stroke-linecap="butt"/>
<rect x="1681.3" y="1952.3" width="63.9" height="144.7" fill="#f84242" stroke="#0c0c0c" stroke-width="3.5" />
<line x1="1467.3" y1="1844.6" x2="1467.3" y2="2098.8" stroke="#000" stroke-width="3.6" stroke-linecap="butt"/>
<line x1="1456.3" y1="2097.0" x2="1766.5" y2="2097.0" stroke="#000" stroke-width="3.6" stroke-linecap="butt"/>
<line x1="1456.3" y1="1846.3" x2="1467.3" y2="1846.3" stroke="#000" stroke-width="3.4" stroke-linecap="butt"/>
<text transform="translate(1452.6 1871.3) scale(1.05 1)" font-size="39.5" text-anchor="end" stroke-width="1.15">150</text>
<line x1="1456.3" y1="1930.6" x2="1467.3" y2="1930.6" stroke="#000" stroke-width="3.4" stroke-linecap="butt"/>
<text transform="translate(1452.6 1946.5) scale(1.05 1)" font-size="39.5" text-anchor="end" stroke-width="1.15">100</text>
<line x1="1456.3" y1="2013.5" x2="1467.3" y2="2013.5" stroke="#000" stroke-width="3.4" stroke-linecap="butt"/>
<text transform="translate(1451.2 2027.6) scale(1.05 1)" font-size="39.5" text-anchor="end" stroke-width="1.15">50</text>
<line x1="1456.3" y1="2097.0" x2="1467.3" y2="2097.0" stroke="#000" stroke-width="3.4" stroke-linecap="butt"/>
<text transform="translate(1446.1 2096.9) scale(1.05 1)" font-size="39.5" text-anchor="end" stroke-width="1.15">0</text>
<line x1="1515.8" y1="2097.0" x2="1515.8" y2="2104.8" stroke="#000" stroke-width="3.6" stroke-linecap="butt"/>
<line x1="1614.8" y1="2097.0" x2="1614.8" y2="2104.8" stroke="#000" stroke-width="3.6" stroke-linecap="butt"/>
<line x1="1714.6" y1="2097.0" x2="1714.6" y2="2104.8" stroke="#000" stroke-width="3.6" stroke-linecap="butt"/>
<text transform="translate(1510.5 2165.2) scale(1.06 1)" font-size="46" text-anchor="middle" stroke-width="1.33">C</text>
<text transform="translate(1596.8 2165.2) scale(1.06 1)" font-size="46" text-anchor="middle" stroke-width="1.33">L</text>
<text transform="translate(1710.8 2165.2) scale(1.06 1)" font-size="46" text-anchor="middle" stroke-width="1.33">L+R</text>
<text transform="translate(1319.5 1984.4) rotate(-90) scale(1.07 1)" font-size="40.5" text-anchor="middle" stroke-width="1.17">P38</text>
<text transform="translate(1365.7 1972.7) rotate(-90) scale(1.07 1)" font-size="40.5" text-anchor="middle" stroke-width="1.17">(% of control)</text>
<text transform="translate(1269.8 1778.5)" font-size="52" text-anchor="start" stroke-width="1.51">K</text>
<line x1="350.0" y1="2816.3" x2="350.0" y2="2827.0" stroke="#222" stroke-width="3.0" stroke-linecap="butt"/>
<line x1="333.2" y1="2816.3" x2="366.7" y2="2816.3" stroke="#222" stroke-width="3.0" stroke-linecap="butt"/>
<rect x="314.6" y="2825.2" width="70.8" height="150.6" fill="#fff" stroke="#0c0c0c" stroke-width="3.5" />
<line x1="460.0" y1="2721.7" x2="460.0" y2="2731.3" stroke="#222" stroke-width="3.0" stroke-linecap="butt"/>
<line x1="443.2" y1="2721.7" x2="476.7" y2="2721.7" stroke="#222" stroke-width="3.0" stroke-linecap="butt"/>
<rect x="426.1" y="2729.5" width="67.8" height="246.3" fill="#ff0000" stroke="#0c0c0c" stroke-width="3.5" />
<line x1="569.1" y1="2773.9" x2="569.1" y2="2777.4" stroke="#222" stroke-width="3.0" stroke-linecap="butt"/>
<line x1="551.1" y1="2773.9" x2="587.1" y2="2773.9" stroke="#222" stroke-width="3.0" stroke-linecap="butt"/>
<rect x="534.0" y="2775.6" width="70.2" height="200.2" fill="#000" stroke="#000" stroke-width="3.5" />
<line x1="296.2" y1="2668.9" x2="296.2" y2="2978.2" stroke="#000" stroke-width="4.8" stroke-linecap="butt"/>
<line x1="282.4" y1="2975.8" x2="626.1" y2="2975.8" stroke="#000" stroke-width="4.8" stroke-linecap="butt"/>
<line x1="282.4" y1="2670.9" x2="296.2" y2="2670.9" stroke="#000" stroke-width="4.0" stroke-linecap="butt"/>
<text transform="translate(264.5 2693.5)" font-size="39.5" text-anchor="end" stroke-width="1.15">10<tspan dy="-18.6" font-size="22.9">4</tspan></text>
<line x1="282.4" y1="2747.1" x2="296.2" y2="2747.1" stroke="#000" stroke-width="4.0" stroke-linecap="butt"/>
<text transform="translate(264.5 2770.0)" font-size="39.5" text-anchor="end" stroke-width="1.15">10<tspan dy="-18.6" font-size="22.9">3</tspan></text>
<line x1="282.4" y1="2823.4" x2="296.2" y2="2823.4" stroke="#000" stroke-width="4.0" stroke-linecap="butt"/>
<text transform="translate(264.5 2843.1)" font-size="39.5" text-anchor="end" stroke-width="1.15">10<tspan dy="-18.6" font-size="22.9">2</tspan></text>
<line x1="282.4" y1="2899.6" x2="296.2" y2="2899.6" stroke="#000" stroke-width="4.0" stroke-linecap="butt"/>
<text transform="translate(264.5 2917.8)" font-size="39.5" text-anchor="end" stroke-width="1.15">10<tspan dy="-18.6" font-size="22.9">1</tspan></text>
<line x1="282.4" y1="2975.8" x2="296.2" y2="2975.8" stroke="#000" stroke-width="4.0" stroke-linecap="butt"/>
<text transform="translate(264.5 2991.7)" font-size="39.5" text-anchor="end" stroke-width="1.15">10<tspan dy="-18.6" font-size="22.9">0</tspan></text>
<line x1="350.9" y1="2975.8" x2="350.9" y2="2992.2" stroke="#000" stroke-width="4.4" stroke-linecap="butt"/>
<line x1="460.0" y1="2975.8" x2="460.0" y2="2992.2" stroke="#000" stroke-width="4.4" stroke-linecap="butt"/>
<line x1="569.3" y1="2975.8" x2="569.3" y2="2992.2" stroke="#000" stroke-width="4.4" stroke-linecap="butt"/>
<text transform="translate(347.4 3044.2)" font-size="43" text-anchor="middle" stroke-width="1.25">C</text>
<text transform="translate(457.5 3044.2)" font-size="43" text-anchor="middle" stroke-width="1.25">L</text>
<text transform="translate(569.4 3044.2)" font-size="43" text-anchor="middle" stroke-width="1.25">L+R</text>
<text transform="translate(121.7 2833.7) rotate(-90) scale(1.07 1)" font-size="40.5" text-anchor="middle" stroke-width="1.17">COX-2</text>
<text transform="translate(168.6 2819.5) rotate(-90) scale(1.07 1)" font-size="40.5" text-anchor="middle" stroke-width="1.17">(% of control)</text>
<path d="M354.1 2712.7V2700.7H452.7V2712.7" fill="none" stroke="#5c5c5c" stroke-width="3.4" />
<path d="M461.3 2712.7V2700.7H560.4V2712.7" fill="none" stroke="#5c5c5c" stroke-width="3.4" />
<text transform="translate(404.4 2700.0) scale(1.17 1)" font-size="46" text-anchor="middle" font-weight="bold" stroke-width="0.5">**</text>
<text transform="translate(510.2 2700.0) scale(1.17 1)" font-size="46" text-anchor="middle" font-weight="bold" stroke-width="0.5">**</text>
<text transform="translate(58.7 2627.5)" font-size="52" text-anchor="start" stroke-width="1.51">L</text>
<line x1="973.8" y1="2828.4" x2="973.8" y2="2834.8" stroke="#222" stroke-width="3.0" stroke-linecap="butt"/>
<line x1="957.0" y1="2828.4" x2="990.5" y2="2828.4" stroke="#222" stroke-width="3.0" stroke-linecap="butt"/>
<rect x="942.8" y="2833.0" width="62.0" height="145.3" fill="#fff" stroke="#0c0c0c" stroke-width="3.5" />
<line x1="1072.9" y1="2693.0" x2="1072.9" y2="2699.2" stroke="#222" stroke-width="3.0" stroke-linecap="butt"/>
<line x1="1056.2" y1="2693.0" x2="1089.6" y2="2693.0" stroke="#222" stroke-width="3.0" stroke-linecap="butt"/>
<rect x="1041.5" y="2697.4" width="62.9" height="280.9" fill="#000" stroke="#000" stroke-width="3.5" />
<line x1="1172.4" y1="2755.2" x2="1172.4" y2="2759.5" stroke="#222" stroke-width="3.0" stroke-linecap="butt"/>
<line x1="1156.9" y1="2755.2" x2="1187.9" y2="2755.2" stroke="#222" stroke-width="3.0" stroke-linecap="butt"/>
<rect x="1141.3" y="2757.7" width="62.2" height="220.6" fill="#ff0000" stroke="#0c0c0c" stroke-width="3.5" />
<line x1="926.2" y1="2687.2" x2="926.2" y2="2980.3" stroke="#000" stroke-width="4.0" stroke-linecap="butt"/>
<line x1="911.6" y1="2978.3" x2="1224.0" y2="2978.3" stroke="#000" stroke-width="4.0" stroke-linecap="butt"/>
<line x1="911.6" y1="2689.0" x2="926.2" y2="2689.0" stroke="#000" stroke-width="3.6" stroke-linecap="butt"/>
<text transform="translate(893.4 2710.4)" font-size="39.5" text-anchor="end" stroke-width="1.15">10<tspan dy="-18.6" font-size="22.9">4</tspan></text>
<line x1="911.6" y1="2761.3" x2="926.2" y2="2761.3" stroke="#000" stroke-width="3.6" stroke-linecap="butt"/>
<text transform="translate(893.4 2783.0)" font-size="39.5" text-anchor="end" stroke-width="1.15">10<tspan dy="-18.6" font-size="22.9">3</tspan></text>
<line x1="911.6" y1="2833.7" x2="926.2" y2="2833.7" stroke="#000" stroke-width="3.6" stroke-linecap="butt"/>
<text transform="translate(893.4 2854.3)" font-size="39.5" text-anchor="end" stroke-width="1.15">10<tspan dy="-18.6" font-size="22.9">2</tspan></text>
<line x1="911.6" y1="2906.0" x2="926.2" y2="2906.0" stroke="#000" stroke-width="3.6" stroke-linecap="butt"/>
<text transform="translate(893.4 2928.2)" font-size="39.5" text-anchor="end" stroke-width="1.15">10<tspan dy="-18.6" font-size="22.9">1</tspan></text>
<line x1="911.6" y1="2978.3" x2="926.2" y2="2978.3" stroke="#000" stroke-width="3.6" stroke-linecap="butt"/>
<text transform="translate(893.4 2993.0)" font-size="39.5" text-anchor="end" stroke-width="1.15">10<tspan dy="-18.6" font-size="22.9">0</tspan></text>
<line x1="974.3" y1="2978.3" x2="974.3" y2="2992.8" stroke="#000" stroke-width="4.4" stroke-linecap="butt"/>
<line x1="1071.8" y1="2978.3" x2="1071.8" y2="2992.8" stroke="#000" stroke-width="4.4" stroke-linecap="butt"/>
<line x1="1171.8" y1="2978.3" x2="1171.8" y2="2992.8" stroke="#000" stroke-width="4.4" stroke-linecap="butt"/>
<text transform="translate(973.2 3046.9)" font-size="43" text-anchor="middle" stroke-width="1.25">C</text>
<text transform="translate(1080.2 3046.9)" font-size="43" text-anchor="middle" stroke-width="1.25">L</text>
<text transform="translate(1180.5 3046.9)" font-size="43" text-anchor="middle" stroke-width="1.25">L+R</text>
<text transform="translate(747.8 2840.2) rotate(-90) scale(1.07 1)" font-size="40.5" text-anchor="middle" stroke-width="1.17">IL-1β</text>
<text transform="translate(798.6 2835.0) rotate(-90) scale(1.07 1)" font-size="40.5" text-anchor="middle" stroke-width="1.17">(% of control)</text>
<path d="M973.5 2682.4V2673.1H1070.0V2682.4" fill="none" stroke="#5c5c5c" stroke-width="3.4" />
<path d="M1075.3 2682.4V2673.1H1169.1V2682.4" fill="none" stroke="#5c5c5c" stroke-width="3.4" />
<text transform="translate(1019.7 2662.5) scale(1.17 1)" font-size="46" text-anchor="middle" font-weight="bold" stroke-width="0.5">***</text>
<text transform="translate(1129.6 2662.5) scale(1.17 1)" font-size="46" text-anchor="middle" font-weight="bold" stroke-width="0.5">***</text>
<text transform="translate(683.0 2643.0)" font-size="52" text-anchor="start" stroke-width="1.51">M</text>
<line x1="1615.2" y1="2819.9" x2="1615.2" y2="2825.4" stroke="#222" stroke-width="3.0" stroke-linecap="butt"/>
<line x1="1600.2" y1="2819.9" x2="1630.2" y2="2819.9" stroke="#222" stroke-width="3.0" stroke-linecap="butt"/>
<rect x="1586.0" y="2823.6" width="58.2" height="149.2" fill="#fff" stroke="#0c0c0c" stroke-width="3.5" />
<line x1="1706.1" y1="2711.0" x2="1706.1" y2="2717.7" stroke="#222" stroke-width="3.0" stroke-linecap="butt"/>
<line x1="1690.6" y1="2711.0" x2="1721.6" y2="2711.0" stroke="#222" stroke-width="3.0" stroke-linecap="butt"/>
<rect x="1676.8" y="2715.9" width="58.7" height="256.9" fill="#000" stroke="#000" stroke-width="3.5" />
<line x1="1797.1" y1="2769.3" x2="1797.1" y2="2773.0" stroke="#222" stroke-width="3.0" stroke-linecap="butt"/>
<line x1="1782.8" y1="2769.3" x2="1811.3" y2="2769.3" stroke="#222" stroke-width="3.0" stroke-linecap="butt"/>
<rect x="1768.8" y="2771.2" width="56.7" height="201.6" fill="#ff0000" stroke="#0c0c0c" stroke-width="3.5" />
<line x1="1572.0" y1="2672.3" x2="1572.0" y2="2974.8" stroke="#000" stroke-width="4.0" stroke-linecap="butt"/>
<line x1="1558.6" y1="2972.8" x2="1844.3" y2="2972.8" stroke="#000" stroke-width="4.0" stroke-linecap="butt"/>
<line x1="1558.6" y1="2674.1" x2="1572.0" y2="2674.1" stroke="#000" stroke-width="3.6" stroke-linecap="butt"/>
<text transform="translate(1535.4 2697.3)" font-size="39.5" text-anchor="end" stroke-width="1.15">10<tspan dy="-18.6" font-size="22.9">4</tspan></text>
<line x1="1558.6" y1="2748.8" x2="1572.0" y2="2748.8" stroke="#000" stroke-width="3.6" stroke-linecap="butt"/>
<text transform="translate(1535.4 2769.9)" font-size="39.5" text-anchor="end" stroke-width="1.15">10<tspan dy="-18.6" font-size="22.9">3</tspan></text>
<line x1="1558.6" y1="2823.4" x2="1572.0" y2="2823.4" stroke="#000" stroke-width="3.6" stroke-linecap="butt"/>
<text transform="translate(1535.4 2843.1)" font-size="39.5" text-anchor="end" stroke-width="1.15">10<tspan dy="-18.6" font-size="22.9">2</tspan></text>
<line x1="1558.6" y1="2898.1" x2="1572.0" y2="2898.1" stroke="#000" stroke-width="3.6" stroke-linecap="butt"/>
<text transform="translate(1535.4 2919.3)" font-size="39.5" text-anchor="end" stroke-width="1.15">10<tspan dy="-18.6" font-size="22.9">1</tspan></text>
<line x1="1558.6" y1="2972.8" x2="1572.0" y2="2972.8" stroke="#000" stroke-width="3.6" stroke-linecap="butt"/>
<text transform="translate(1535.4 2988.9)" font-size="39.5" text-anchor="end" stroke-width="1.15">10<tspan dy="-18.6" font-size="22.9">0</tspan></text>
<line x1="1616.1" y1="2972.8" x2="1616.1" y2="2988.3" stroke="#000" stroke-width="4.4" stroke-linecap="butt"/>
<line x1="1705.6" y1="2972.8" x2="1705.6" y2="2988.3" stroke="#000" stroke-width="4.4" stroke-linecap="butt"/>
<line x1="1797.6" y1="2972.8" x2="1797.6" y2="2988.3" stroke="#000" stroke-width="4.4" stroke-linecap="butt"/>
<text transform="translate(1619.6 3042.4)" font-size="43" text-anchor="middle" stroke-width="1.25">C</text>
<text transform="translate(1707.2 3042.4)" font-size="43" text-anchor="middle" stroke-width="1.25">L</text>
<text transform="translate(1807.2 3042.4)" font-size="43" text-anchor="middle" stroke-width="1.25">L+R</text>
<text transform="translate(1402.8 2831.3) rotate(-90) scale(1.07 1)" font-size="40.5" text-anchor="middle" stroke-width="1.17">IL-6</text>
<text transform="translate(1449.3 2827.5) rotate(-90) scale(1.07 1)" font-size="40.5" text-anchor="middle" stroke-width="1.17">(% of control)</text>
<path d="M1615.4 2680.7V2669.1H1703.5V2680.7" fill="none" stroke="#5c5c5c" stroke-width="3.4" />
<path d="M1707.4 2680.7V2669.1H1793.0V2680.7" fill="none" stroke="#5c5c5c" stroke-width="3.4" />
<text transform="translate(1661.8 2660.6) scale(1.17 1)" font-size="46" text-anchor="middle" font-weight="bold" stroke-width="0.5">***</text>
<text transform="translate(1754.5 2660.6) scale(1.17 1)" font-size="46" text-anchor="middle" font-weight="bold" stroke-width="0.5">***</text>
<text transform="translate(1266.5 2643.5)" font-size="52" text-anchor="start" stroke-width="1.51">N</text>
<line x1="356.8" y1="3276.4" x2="356.8" y2="3285.0" stroke="#222" stroke-width="3.0" stroke-linecap="butt"/>
<line x1="339.4" y1="3276.4" x2="374.2" y2="3276.4" stroke="#222" stroke-width="3.0" stroke-linecap="butt"/>
<rect x="324.9" y="3283.2" width="63.9" height="151.4" fill="#fff" stroke="#0c0c0c" stroke-width="3.5" />
<line x1="456.8" y1="3196.0" x2="456.8" y2="3205.4" stroke="#222" stroke-width="3.0" stroke-linecap="butt"/>
<line x1="441.9" y1="3196.0" x2="471.6" y2="3196.0" stroke="#222" stroke-width="3.0" stroke-linecap="butt"/>
<rect x="425.4" y="3203.6" width="62.6" height="231.0" fill="#000" stroke="#000" stroke-width="3.5" />
<line x1="556.5" y1="3225.0" x2="556.5" y2="3231.8" stroke="#222" stroke-width="3.0" stroke-linecap="butt"/>
<line x1="541.2" y1="3225.0" x2="571.8" y2="3225.0" stroke="#222" stroke-width="3.0" stroke-linecap="butt"/>
<rect x="525.2" y="3230.0" width="62.6" height="204.6" fill="#ff0000" stroke="#0c0c0c" stroke-width="3.5" />
<line x1="308.3" y1="3128.2" x2="308.3" y2="3436.6" stroke="#000" stroke-width="4.0" stroke-linecap="butt"/>
<line x1="296.7" y1="3434.6" x2="606.5" y2="3434.6" stroke="#000" stroke-width="4.0" stroke-linecap="butt"/>
<line x1="296.7" y1="3130.0" x2="308.3" y2="3130.0" stroke="#000" stroke-width="3.6" stroke-linecap="butt"/>
<text transform="translate(276.9 3150.6)" font-size="39.5" text-anchor="end" stroke-width="1.15">10<tspan dy="-18.6" font-size="22.9">4</tspan></text>
<line x1="296.7" y1="3206.2" x2="308.3" y2="3206.2" stroke="#000" stroke-width="3.6" stroke-linecap="butt"/>
<text transform="translate(276.9 3229.7)" font-size="39.5" text-anchor="end" stroke-width="1.15">10<tspan dy="-18.6" font-size="22.9">3</tspan></text>
<line x1="296.7" y1="3282.3" x2="308.3" y2="3282.3" stroke="#000" stroke-width="3.6" stroke-linecap="butt"/>
<text transform="translate(276.9 3303.6)" font-size="39.5" text-anchor="end" stroke-width="1.15">10<tspan dy="-18.6" font-size="22.9">2</tspan></text>
<line x1="296.7" y1="3358.4" x2="308.3" y2="3358.4" stroke="#000" stroke-width="3.6" stroke-linecap="butt"/>
<text transform="translate(276.9 3376.1)" font-size="39.5" text-anchor="end" stroke-width="1.15">10<tspan dy="-18.6" font-size="22.9">1</tspan></text>
<line x1="296.7" y1="3434.6" x2="308.3" y2="3434.6" stroke="#000" stroke-width="3.6" stroke-linecap="butt"/>
<text transform="translate(276.9 3447.4)" font-size="39.5" text-anchor="end" stroke-width="1.15">10<tspan dy="-18.6" font-size="22.9">0</tspan></text>
<line x1="357.6" y1="3434.6" x2="357.6" y2="3449.1" stroke="#000" stroke-width="4.4" stroke-linecap="butt"/>
<line x1="456.6" y1="3434.6" x2="456.6" y2="3449.1" stroke="#000" stroke-width="4.4" stroke-linecap="butt"/>
<line x1="555.4" y1="3434.6" x2="555.4" y2="3449.1" stroke="#000" stroke-width="4.4" stroke-linecap="butt"/>
<text transform="translate(352.2 3498.7)" font-size="43" text-anchor="middle" stroke-width="1.25">C</text>
<text transform="translate(458.7 3498.7)" font-size="43" text-anchor="middle" stroke-width="1.25">L</text>
<text transform="translate(559.8 3498.7)" font-size="43" text-anchor="middle" stroke-width="1.25">L+R</text>
<text transform="translate(134.6 3280.4) rotate(-90) scale(1.07 1)" font-size="40.5" text-anchor="middle" stroke-width="1.17">iNOS</text>
<text transform="translate(184.2 3277.1) rotate(-90) scale(1.07 1)" font-size="40.5" text-anchor="middle" stroke-width="1.17">(% of control)</text>
<path d="M358.4 3183.2V3171.5H453.0V3183.2" fill="none" stroke="#4a4a4a" stroke-width="3.4" />
<text transform="translate(404.8 3166.6) scale(1.17 1)" font-size="46" text-anchor="middle" font-weight="bold" stroke-width="0.5">**</text>
<text transform="translate(56.0 3100.5)" font-size="52" text-anchor="start" stroke-width="1.51">O</text>
<line x1="981.2" y1="3226.3" x2="981.2" y2="3234.8" stroke="#222" stroke-width="3.0" stroke-linecap="butt"/>
<line x1="965.8" y1="3226.3" x2="996.8" y2="3226.3" stroke="#222" stroke-width="3.0" stroke-linecap="butt"/>
<rect x="952.1" y="3233.0" width="58.2" height="197.5" fill="#fff" stroke="#0c0c0c" stroke-width="3.5" />
<line x1="1076.3" y1="3149.3" x2="1076.3" y2="3157.4" stroke="#222" stroke-width="3.0" stroke-linecap="butt"/>
<line x1="1062.1" y1="3149.3" x2="1090.6" y2="3149.3" stroke="#222" stroke-width="3.0" stroke-linecap="butt"/>
<rect x="1045.5" y="3155.6" width="61.8" height="274.9" fill="#000" stroke="#000" stroke-width="3.5" />
<line x1="1171.0" y1="3183.0" x2="1171.0" y2="3189.8" stroke="#222" stroke-width="3.0" stroke-linecap="butt"/>
<line x1="1156.1" y1="3183.0" x2="1185.9" y2="3183.0" stroke="#222" stroke-width="3.0" stroke-linecap="butt"/>
<rect x="1141.3" y="3188.0" width="59.3" height="242.5" fill="#ff0000" stroke="#0c0c0c" stroke-width="3.5" />
<line x1="935.4" y1="3131.6" x2="935.4" y2="3432.6" stroke="#000" stroke-width="4.2" stroke-linecap="butt"/>
<line x1="925.0" y1="3430.5" x2="1220.0" y2="3430.5" stroke="#000" stroke-width="4.2" stroke-linecap="butt"/>
<line x1="925.0" y1="3133.4" x2="935.4" y2="3133.4" stroke="#000" stroke-width="3.6" stroke-linecap="butt"/>
<text transform="translate(900.1 3154.5)" font-size="39.5" text-anchor="end" stroke-width="1.15">10<tspan dy="-18.6" font-size="22.9">3</tspan></text>
<line x1="925.0" y1="3232.4" x2="935.4" y2="3232.4" stroke="#000" stroke-width="3.6" stroke-linecap="butt"/>
<text transform="translate(900.1 3254.3)" font-size="39.5" text-anchor="end" stroke-width="1.15">10<tspan dy="-18.6" font-size="22.9">2</tspan></text>
<line x1="925.0" y1="3331.5" x2="935.4" y2="3331.5" stroke="#000" stroke-width="3.6" stroke-linecap="butt"/>
<text transform="translate(900.1 3351.5)" font-size="39.5" text-anchor="end" stroke-width="1.15">10<tspan dy="-18.6" font-size="22.9">1</tspan></text>
<line x1="925.0" y1="3430.5" x2="935.4" y2="3430.5" stroke="#000" stroke-width="3.6" stroke-linecap="butt"/>
<text transform="translate(900.1 3444.9)" font-size="39.5" text-anchor="end" stroke-width="1.15">10<tspan dy="-18.6" font-size="22.9">0</tspan></text>
<line x1="982.0" y1="3430.5" x2="982.0" y2="3446.6" stroke="#000" stroke-width="4.4" stroke-linecap="butt"/>
<line x1="1076.6" y1="3430.5" x2="1076.6" y2="3446.6" stroke="#000" stroke-width="4.4" stroke-linecap="butt"/>
<line x1="1172.0" y1="3430.5" x2="1172.0" y2="3446.6" stroke="#000" stroke-width="4.4" stroke-linecap="butt"/>
<text transform="translate(973.7 3496.9)" font-size="43" text-anchor="middle" stroke-width="1.25">C</text>
<text transform="translate(1078.7 3496.9)" font-size="43" text-anchor="middle" stroke-width="1.25">L</text>
<text transform="translate(1179.3 3496.9)" font-size="43" text-anchor="middle" stroke-width="1.25">L+R</text>
<text transform="translate(757.8 3287.5) rotate(-90) scale(1.07 1)" font-size="40.5" text-anchor="middle" stroke-width="1.17">TNF-α</text>
<text transform="translate(807.3 3288.8) rotate(-90) scale(1.07 1)" font-size="40.5" text-anchor="middle" stroke-width="1.17">(% of control)</text>
<path d="M981.5 3141.7V3131.3H1073.5V3141.7" fill="none" stroke="#555" stroke-width="3.2" />
<path d="M1080.0 3141.7V3131.3H1166.9V3141.7" fill="none" stroke="#555" stroke-width="3.2" />
<text transform="translate(1031.5 3122.9) scale(1.17 1)" font-size="46" text-anchor="middle" font-weight="bold" stroke-width="0.5">***</text>
<text transform="translate(1121.9 3122.9) scale(1.17 1)" font-size="46" text-anchor="middle" font-weight="bold" stroke-width="0.5">*</text>
<text transform="translate(698.0 3100.0)" font-size="52" text-anchor="start" stroke-width="1.51">P</text>
<line x1="1126.1" y1="3787.7" x2="1126.1" y2="3796.0" stroke="#222" stroke-width="3.0" stroke-linecap="butt"/>
<line x1="1109.9" y1="3787.7" x2="1142.3" y2="3787.7" stroke="#222" stroke-width="3.0" stroke-linecap="butt"/>
<rect x="1093.7" y="3794.2" width="64.8" height="110.6" fill="#fff" stroke="#0c0c0c" stroke-width="3.5" />
<line x1="1226.6" y1="3708.0" x2="1226.6" y2="3732.6" stroke="#222" stroke-width="3.0" stroke-linecap="butt"/>
<line x1="1210.0" y1="3708.0" x2="1243.2" y2="3708.0" stroke="#222" stroke-width="3.0" stroke-linecap="butt"/>
<rect x="1193.8" y="3730.8" width="65.7" height="174.0" fill="#000" stroke="#000" stroke-width="3.5" />
<line x1="1324.5" y1="3815.9" x2="1324.5" y2="3838.3" stroke="#222" stroke-width="3.0" stroke-linecap="butt"/>
<line x1="1307.9" y1="3815.9" x2="1341.1" y2="3815.9" stroke="#222" stroke-width="3.0" stroke-linecap="butt"/>
<rect x="1294.2" y="3836.5" width="60.7" height="68.3" fill="#ff0000" stroke="#0c0c0c" stroke-width="3.5" />
<line x1="1075.8" y1="3677.9" x2="1075.8" y2="3906.6" stroke="#000" stroke-width="3.6" stroke-linecap="butt"/>
<line x1="1061.5" y1="3904.8" x2="1375.9" y2="3904.8" stroke="#000" stroke-width="3.6" stroke-linecap="butt"/>
<line x1="1061.5" y1="3679.6" x2="1075.8" y2="3679.6" stroke="#000" stroke-width="3.4" stroke-linecap="butt"/>
<text transform="translate(1055.3 3696.8) scale(1.05 1)" font-size="39.5" text-anchor="end" stroke-width="1.15">200</text>
<line x1="1061.5" y1="3736.2" x2="1075.8" y2="3736.2" stroke="#000" stroke-width="3.4" stroke-linecap="butt"/>
<text transform="translate(1052.7 3755.4) scale(1.05 1)" font-size="39.5" text-anchor="end" stroke-width="1.15">150</text>
<line x1="1061.5" y1="3793.2" x2="1075.8" y2="3793.2" stroke="#000" stroke-width="3.4" stroke-linecap="butt"/>
<text transform="translate(1054.0 3809.9) scale(1.05 1)" font-size="39.5" text-anchor="end" stroke-width="1.15">100</text>
<line x1="1061.5" y1="3849.5" x2="1075.8" y2="3849.5" stroke="#000" stroke-width="3.4" stroke-linecap="butt"/>
<text transform="translate(1052.7 3864.3) scale(1.05 1)" font-size="39.5" text-anchor="end" stroke-width="1.15">50</text>
<line x1="1061.5" y1="3904.8" x2="1075.8" y2="3904.8" stroke="#000" stroke-width="3.4" stroke-linecap="butt"/>
<text transform="translate(1050.1 3927.6) scale(1.05 1)" font-size="39.5" text-anchor="end" stroke-width="1.15">0</text>
<line x1="1125.6" y1="3904.8" x2="1125.6" y2="3916.1" stroke="#000" stroke-width="3.6" stroke-linecap="butt"/>
<line x1="1224.4" y1="3904.8" x2="1224.4" y2="3916.1" stroke="#000" stroke-width="3.6" stroke-linecap="butt"/>
<line x1="1323.4" y1="3904.8" x2="1323.4" y2="3916.1" stroke="#000" stroke-width="3.6" stroke-linecap="butt"/>
<text transform="translate(1118.0 3967.6) scale(1.0 1)" font-size="49" text-anchor="middle" stroke-width="1.42">C</text>
<text transform="translate(1204.8 3967.6) scale(1.0 1)" font-size="49" text-anchor="middle" stroke-width="1.42">L</text>
<text transform="translate(1319.2 3967.6) scale(1.0 1)" font-size="49" text-anchor="middle" stroke-width="1.42">L+R</text>
<text transform="translate(909.8 3811.9) rotate(-90) scale(1.07 1)" font-size="37.5" text-anchor="middle" stroke-width="1.09">p-AKT</text>
<text transform="translate(956.8 3803.4) rotate(-90) scale(1.07 1)" font-size="40.5" text-anchor="middle" stroke-width="1.17">(% of control)</text>
<path d="M1226.6 3695.2V3686.4H1315.1V3695.2" fill="none" stroke="#444" stroke-width="3.4" />
<text transform="translate(1262.4 3660.7) scale(1.17 1)" font-size="46" text-anchor="middle" font-weight="bold" stroke-width="0.5">*</text>
<text transform="translate(826.6 3596.0)" font-size="52" text-anchor="start" stroke-width="1.51">R</text>
<line x1="1708.8" y1="3778.0" x2="1708.8" y2="3785.0" stroke="#222" stroke-width="3.0" stroke-linecap="butt"/>
<line x1="1692.2" y1="3778.0" x2="1725.4" y2="3778.0" stroke="#222" stroke-width="3.0" stroke-linecap="butt"/>
<rect x="1676.5" y="3783.2" width="64.8" height="111.6" fill="#fff" stroke="#0c0c0c" stroke-width="3.5" />
<line x1="1808.2" y1="3781.9" x2="1808.2" y2="3794.0" stroke="#222" stroke-width="3.0" stroke-linecap="butt"/>
<line x1="1791.4" y1="3781.9" x2="1825.1" y2="3781.9" stroke="#222" stroke-width="3.0" stroke-linecap="butt"/>
<rect x="1775.8" y="3792.2" width="65.0" height="102.6" fill="#000" stroke="#000" stroke-width="3.5" />
<line x1="1906.5" y1="3786.9" x2="1906.5" y2="3809.2" stroke="#222" stroke-width="3.0" stroke-linecap="butt"/>
<line x1="1890.0" y1="3786.9" x2="1923.1" y2="3786.9" stroke="#222" stroke-width="3.0" stroke-linecap="butt"/>
<rect x="1876.0" y="3807.4" width="61.0" height="87.4" fill="#f84242" stroke="#0c0c0c" stroke-width="3.5" />
<line x1="1658.3" y1="3668.1" x2="1658.3" y2="3896.6" stroke="#000" stroke-width="3.6" stroke-linecap="butt"/>
<line x1="1646.7" y1="3894.8" x2="1958.2" y2="3894.8" stroke="#000" stroke-width="3.6" stroke-linecap="butt"/>
<line x1="1646.7" y1="3669.8" x2="1658.3" y2="3669.8" stroke="#000" stroke-width="3.4" stroke-linecap="butt"/>
<text transform="translate(1636.6 3689.1) scale(1.05 1)" font-size="39.5" text-anchor="end" stroke-width="1.15">200</text>
<line x1="1646.7" y1="3726.3" x2="1658.3" y2="3726.3" stroke="#000" stroke-width="3.4" stroke-linecap="butt"/>
<text transform="translate(1634.1 3746.1) scale(1.05 1)" font-size="39.5" text-anchor="end" stroke-width="1.15">150</text>
<line x1="1646.7" y1="3783.3" x2="1658.3" y2="3783.3" stroke="#000" stroke-width="3.4" stroke-linecap="butt"/>
<text transform="translate(1635.3 3802.1) scale(1.05 1)" font-size="39.5" text-anchor="end" stroke-width="1.15">100</text>
<line x1="1646.7" y1="3838.6" x2="1658.3" y2="3838.6" stroke="#000" stroke-width="3.4" stroke-linecap="butt"/>
<text transform="translate(1634.1 3855.0) scale(1.05 1)" font-size="39.5" text-anchor="end" stroke-width="1.15">50</text>
<line x1="1646.7" y1="3894.8" x2="1658.3" y2="3894.8" stroke="#000" stroke-width="3.4" stroke-linecap="butt"/>
<text transform="translate(1634.1 3918.8) scale(1.05 1)" font-size="39.5" text-anchor="end" stroke-width="1.15">0</text>
<line x1="1707.0" y1="3894.8" x2="1707.0" y2="3903.6" stroke="#000" stroke-width="3.6" stroke-linecap="butt"/>
<line x1="1806.6" y1="3894.8" x2="1806.6" y2="3903.6" stroke="#000" stroke-width="3.6" stroke-linecap="butt"/>
<line x1="1907.0" y1="3894.8" x2="1907.0" y2="3903.6" stroke="#000" stroke-width="3.6" stroke-linecap="butt"/>
<text transform="translate(1700.5 3953.3) scale(1.0 1)" font-size="49" text-anchor="middle" stroke-width="1.42">C</text>
<text transform="translate(1787.7 3953.3) scale(1.0 1)" font-size="49" text-anchor="middle" stroke-width="1.42">L</text>
<text transform="translate(1901.7 3953.3) scale(1.0 1)" font-size="49" text-anchor="middle" stroke-width="1.42">L+R</text>
<text transform="translate(1497.6 3792.4) rotate(-90) scale(1.07 1)" font-size="40.5" text-anchor="middle" stroke-width="1.17">AKT</text>
<text transform="translate(1544.5 3790.5) rotate(-90) scale(1.07 1)" font-size="40.5" text-anchor="middle" stroke-width="1.17">(% of control)</text>
<text transform="translate(1404.5 3594.5)" font-size="52" text-anchor="start" stroke-width="1.51">S</text>
<line x1="1133.9" y1="4327.3" x2="1133.9" y2="4330.6" stroke="#222" stroke-width="3.0" stroke-linecap="butt"/>
<line x1="1117.3" y1="4327.3" x2="1150.5" y2="4327.3" stroke="#222" stroke-width="3.0" stroke-linecap="butt"/>
<rect x="1103.2" y="4328.8" width="61.3" height="14.5" fill="#fff" stroke="#0c0c0c" stroke-width="3.5" />
<line x1="1231.0" y1="4189.0" x2="1231.0" y2="4241.5" stroke="#222" stroke-width="3.0" stroke-linecap="butt"/>
<line x1="1214.4" y1="4189.0" x2="1247.6" y2="4189.0" stroke="#222" stroke-width="3.0" stroke-linecap="butt"/>
<rect x="1200.7" y="4239.7" width="60.7" height="103.6" fill="#000" stroke="#000" stroke-width="3.5" />
<line x1="1327.5" y1="4297.4" x2="1327.5" y2="4318.4" stroke="#222" stroke-width="3.0" stroke-linecap="butt"/>
<line x1="1310.9" y1="4297.4" x2="1344.1" y2="4297.4" stroke="#222" stroke-width="3.0" stroke-linecap="butt"/>
<rect x="1297.5" y="4316.6" width="60.1" height="26.7" fill="#ff0000" stroke="#0c0c0c" stroke-width="3.5" />
<line x1="1084.5" y1="4114.8" x2="1084.5" y2="4345.1" stroke="#000" stroke-width="3.6" stroke-linecap="butt"/>
<line x1="1073.5" y1="4343.3" x2="1378.7" y2="4343.3" stroke="#000" stroke-width="3.6" stroke-linecap="butt"/>
<line x1="1073.5" y1="4116.5" x2="1084.5" y2="4116.5" stroke="#000" stroke-width="3.4" stroke-linecap="butt"/>
<text transform="translate(1066.6 4136.8) scale(1.05 1)" font-size="39.5" text-anchor="end" stroke-width="1.15">1500</text>
<line x1="1073.5" y1="4192.5" x2="1084.5" y2="4192.5" stroke="#000" stroke-width="3.4" stroke-linecap="butt"/>
<text transform="translate(1065.3 4211.0) scale(1.05 1)" font-size="39.5" text-anchor="end" stroke-width="1.15">1000</text>
<line x1="1073.5" y1="4268.0" x2="1084.5" y2="4268.0" stroke="#000" stroke-width="3.4" stroke-linecap="butt"/>
<text transform="translate(1065.3 4286.2) scale(1.05 1)" font-size="39.5" text-anchor="end" stroke-width="1.15">500</text>
<line x1="1073.5" y1="4343.3" x2="1084.5" y2="4343.3" stroke="#000" stroke-width="3.4" stroke-linecap="butt"/>
<text transform="translate(1051.0 4371.0) scale(1.05 1)" font-size="39.5" text-anchor="end" stroke-width="1.15">0</text>
<line x1="1133.9" y1="4343.3" x2="1133.9" y2="4353.6" stroke="#000" stroke-width="3.6" stroke-linecap="butt"/>
<line x1="1230.7" y1="4343.3" x2="1230.7" y2="4353.6" stroke="#000" stroke-width="3.6" stroke-linecap="butt"/>
<line x1="1327.5" y1="4343.3" x2="1327.5" y2="4353.6" stroke="#000" stroke-width="3.6" stroke-linecap="butt"/>
<text transform="translate(1124.9 4404.9) scale(1.0 1)" font-size="49" text-anchor="middle" stroke-width="1.42">C</text>
<text transform="translate(1211.5 4404.9) scale(1.0 1)" font-size="49" text-anchor="middle" stroke-width="1.42">L</text>
<text transform="translate(1325.7 4404.9) scale(1.0 1)" font-size="49" text-anchor="middle" stroke-width="1.42">L+R</text>
<text transform="translate(905.6 4246.0) rotate(-90) scale(1.07 1)" font-size="38.5" text-anchor="middle" stroke-width="1.12">p-P38</text>
<text transform="translate(953.8 4235.7) rotate(-90) scale(1.07 1)" font-size="40.5" text-anchor="middle" stroke-width="1.17">(% of control)</text>
<text transform="translate(833.5 4032.0)" font-size="52" text-anchor="start" stroke-width="1.51">U</text>
<line x1="1716.0" y1="4180.4" x2="1716.0" y2="4187.3" stroke="#222" stroke-width="3.0" stroke-linecap="butt"/>
<line x1="1699.8" y1="4180.4" x2="1732.2" y2="4180.4" stroke="#222" stroke-width="3.0" stroke-linecap="butt"/>
<rect x="1683.0" y="4185.5" width="66.0" height="148.8" fill="#fff" stroke="#0c0c0c" stroke-width="3.5" />
<line x1="1816.2" y1="4168.8" x2="1816.2" y2="4187.5" stroke="#222" stroke-width="3.0" stroke-linecap="butt"/>
<line x1="1798.9" y1="4168.8" x2="1833.5" y2="4168.8" stroke="#222" stroke-width="3.0" stroke-linecap="butt"/>
<rect x="1783.8" y="4185.7" width="64.8" height="148.6" fill="#000" stroke="#000" stroke-width="3.5" />
<line x1="1914.1" y1="4180.4" x2="1914.1" y2="4196.7" stroke="#222" stroke-width="3.0" stroke-linecap="butt"/>
<line x1="1896.8" y1="4180.4" x2="1931.4" y2="4180.4" stroke="#222" stroke-width="3.0" stroke-linecap="butt"/>
<rect x="1883.3" y="4194.9" width="61.5" height="139.4" fill="#f84242" stroke="#0c0c0c" stroke-width="3.5" />
<line x1="1665.4" y1="4108.1" x2="1665.4" y2="4336.1" stroke="#000" stroke-width="3.6" stroke-linecap="butt"/>
<line x1="1655.0" y1="4334.3" x2="1965.9" y2="4334.3" stroke="#000" stroke-width="3.6" stroke-linecap="butt"/>
<line x1="1655.0" y1="4109.8" x2="1665.4" y2="4109.8" stroke="#000" stroke-width="3.4" stroke-linecap="butt"/>
<text transform="translate(1648.8 4128.0) scale(1.05 1)" font-size="39.5" text-anchor="end" stroke-width="1.15">150</text>
<line x1="1655.0" y1="4185.0" x2="1665.4" y2="4185.0" stroke="#000" stroke-width="3.4" stroke-linecap="butt"/>
<text transform="translate(1648.8 4204.3) scale(1.05 1)" font-size="39.5" text-anchor="end" stroke-width="1.15">100</text>
<line x1="1655.0" y1="4259.1" x2="1665.4" y2="4259.1" stroke="#000" stroke-width="3.4" stroke-linecap="butt"/>
<text transform="translate(1646.2 4284.1) scale(1.05 1)" font-size="39.5" text-anchor="end" stroke-width="1.15">50</text>
<line x1="1655.0" y1="4334.3" x2="1665.4" y2="4334.3" stroke="#000" stroke-width="3.4" stroke-linecap="butt"/>
<text transform="translate(1641.1 4352.8) scale(1.05 1)" font-size="39.5" text-anchor="end" stroke-width="1.15">0</text>
<line x1="1714.3" y1="4334.3" x2="1714.3" y2="4345.1" stroke="#000" stroke-width="3.6" stroke-linecap="butt"/>
<line x1="1814.4" y1="4334.3" x2="1814.4" y2="4345.1" stroke="#000" stroke-width="3.6" stroke-linecap="butt"/>
<line x1="1913.4" y1="4334.3" x2="1913.4" y2="4345.1" stroke="#000" stroke-width="3.6" stroke-linecap="butt"/>
<text transform="translate(1710.5 4393.8) scale(1.0 1)" font-size="49" text-anchor="middle" stroke-width="1.42">C</text>
<text transform="translate(1797.3 4393.8) scale(1.0 1)" font-size="49" text-anchor="middle" stroke-width="1.42">L</text>
<text transform="translate(1911.3 4393.8) scale(1.0 1)" font-size="49" text-anchor="middle" stroke-width="1.42">L+R</text>
<text transform="translate(1515.0 4241.5) rotate(-90) scale(1.07 1)" font-size="40.5" text-anchor="middle" stroke-width="1.17">P38</text>
<text transform="translate(1563.2 4229.8) rotate(-90) scale(1.07 1)" font-size="40.5" text-anchor="middle" stroke-width="1.17">(% of control)</text>
<text transform="translate(1427.0 4032.5)" font-size="52" text-anchor="start" stroke-width="1.51">V</text>
<text transform="translate(106.5 68.0)" font-size="50.5" text-anchor="start" textLength="553" lengthAdjust="spacingAndGlyphs" stroke-width="1.46">Primary microglial cells</text>
<line x1="566.0" y1="188.4" x2="1168.5" y2="188.4" stroke="#3a3a3a" stroke-width="2.8" stroke-linecap="butt"/>
<line x1="566.0" y1="181.4" x2="566.0" y2="197.4" stroke="#3a3a3a" stroke-width="2.8" stroke-linecap="butt"/>
<line x1="771.8" y1="181.4" x2="771.8" y2="197.4" stroke="#3a3a3a" stroke-width="2.8" stroke-linecap="butt"/>
<line x1="972.3" y1="181.4" x2="972.3" y2="197.4" stroke="#3a3a3a" stroke-width="2.8" stroke-linecap="butt"/>
<line x1="1168.5" y1="181.4" x2="1168.5" y2="197.4" stroke="#3a3a3a" stroke-width="2.8" stroke-linecap="butt"/>
<text transform="translate(669.2 163.5)" font-size="40" text-anchor="middle" stroke-width="1.16">1 hr</text>
<text transform="translate(882.0 163.5)" font-size="40" text-anchor="middle" stroke-width="1.16">30 min</text>
<text transform="translate(1060.5 163.5)" font-size="40" text-anchor="middle" stroke-width="1.16">5.5 hr</text>
<text transform="translate(466.7 255.0)" font-size="42" text-anchor="start" stroke-width="1.22">Starvation</text>
<text transform="translate(771.8 255.0)" font-size="42" text-anchor="middle" stroke-width="1.22">LPS</text>
<text transform="translate(775.3 303.0)" font-size="42" text-anchor="middle" stroke-width="1.22">(1 µg/ml)</text>
<text transform="translate(973.0 255.0)" font-size="42" text-anchor="middle" stroke-width="1.22">Reg</text>
<text transform="translate(979.5 304.0)" font-size="42" text-anchor="middle" stroke-width="1.22">(5 µM)</text>
<text transform="translate(1136.5 255.0)" font-size="42" text-anchor="start" stroke-width="1.22">Real-time PCR</text>
<text transform="translate(95.0 2315.8)" font-size="50.5" text-anchor="start" textLength="446" lengthAdjust="spacingAndGlyphs" stroke-width="1.46">Primary astrocytes</text>
<line x1="486.6" y1="2430.0" x2="1088.4" y2="2430.0" stroke="#3a3a3a" stroke-width="2.8" stroke-linecap="butt"/>
<line x1="486.6" y1="2423.0" x2="486.6" y2="2439.0" stroke="#3a3a3a" stroke-width="2.8" stroke-linecap="butt"/>
<line x1="691.4" y1="2423.0" x2="691.4" y2="2439.0" stroke="#3a3a3a" stroke-width="2.8" stroke-linecap="butt"/>
<line x1="892.8" y1="2423.0" x2="892.8" y2="2439.0" stroke="#3a3a3a" stroke-width="2.8" stroke-linecap="butt"/>
<line x1="1088.4" y1="2423.0" x2="1088.4" y2="2439.0" stroke="#3a3a3a" stroke-width="2.8" stroke-linecap="butt"/>
<text transform="translate(590.3 2403.2)" font-size="40" text-anchor="middle" stroke-width="1.16">1 hr</text>
<text transform="translate(802.5 2403.2)" font-size="40" text-anchor="middle" stroke-width="1.16">30 min</text>
<text transform="translate(982.0 2403.2)" font-size="40" text-anchor="middle" stroke-width="1.16">5.5 hr</text>
<text transform="translate(384.6 2495.2)" font-size="42" text-anchor="start" stroke-width="1.22">Starvation</text>
<text transform="translate(691.4 2495.2)" font-size="42" text-anchor="middle" stroke-width="1.22">LPS</text>
<text transform="translate(695.8 2548.2)" font-size="42" text-anchor="middle" stroke-width="1.22">(1 µg/ml)</text>
<text transform="translate(896.0 2495.2)" font-size="42" text-anchor="middle" stroke-width="1.22">Reg</text>
<text transform="translate(898.9 2548.2)" font-size="42" text-anchor="middle" stroke-width="1.22">(5 µM)</text>
<text transform="translate(1057.3 2495.2)" font-size="42" text-anchor="start" stroke-width="1.22">Real-time PCR</text>
<text transform="translate(62.0 1362.5)" font-size="52" text-anchor="start" stroke-width="1.51">F</text>
<text transform="translate(134.3 1368.5)" font-size="39.8" text-anchor="start" textLength="82" lengthAdjust="spacingAndGlyphs" stroke-width="1.15">LPS</text>
<text transform="translate(33.0 1444.2)" font-size="39.8" text-anchor="start" textLength="235.5" lengthAdjust="spacingAndGlyphs" stroke-width="1.15">Regorafenib</text>
<text transform="translate(90.0 1546.6)" font-size="39.8" text-anchor="start" textLength="121.5" lengthAdjust="spacingAndGlyphs" stroke-width="1.15">p-AKT</text>
<text transform="translate(116.5 1657.6)" font-size="39.8" text-anchor="start" textLength="81.5" lengthAdjust="spacingAndGlyphs" stroke-width="1.15">AKT</text>
<text transform="translate(357.0 1367.7) scale(1.15 1)" font-size="36" text-anchor="middle" stroke-width="1.5">-</text>
<text transform="translate(480.6 1365.0)" font-size="36" text-anchor="middle" stroke-width="1.5">+</text>
<text transform="translate(604.2 1365.0)" font-size="36" text-anchor="middle" stroke-width="1.5">+</text>
<text transform="translate(354.3 1441.4) scale(1.15 1)" font-size="36" text-anchor="middle" stroke-width="1.5">-</text>
<text transform="translate(479.8 1441.4) scale(1.15 1)" font-size="36" text-anchor="middle" stroke-width="1.5">-</text>
<text transform="translate(603.4 1439.2)" font-size="36" text-anchor="middle" stroke-width="1.5">+</text>
<rect x="278.2" y="1486.5" width="392.2" height="83.1" fill="#f7f7f7" stroke="#101010" stroke-width="4.4" />
<rect x="278.2" y="1588.4" width="392.2" height="86.1" fill="#f7f7f7" stroke="#101010" stroke-width="4.4" />
<g filter="url(#b2)" opacity="1.0" transform="rotate(0.5 353.0 1524.2)"><rect x="305.0" y="1520.2" width="96.0" height="8.0" rx="4.0" fill="rgb(120,120,120)"/></g>
<g filter="url(#b1)" opacity="1" transform="rotate(1.5 479.5 1525.6)"><rect x="431.0" y="1521.1" width="97.0" height="9.0" rx="4.5" fill="rgb(20,20,20)"/><ellipse cx="445.4" cy="1525.6" rx="11.7" ry="5.4" fill="rgb(20,20,20)"/></g>
<g filter="url(#b2)" opacity="1.0" transform="rotate(0.5 607.0 1527.3)"><rect x="560.0" y="1523.5" width="94.0" height="7.5" rx="3.8" fill="rgb(140,140,140)"/></g>
<g filter="url(#b1)" opacity="1.0" transform="rotate(4 352.0 1616.6)"><rect x="305.0" y="1610.1" width="94.0" height="13.0" rx="6.5" fill="rgb(0,0,0)"/></g>
<g filter="url(#b1)" opacity="1.0" transform="rotate(3 473.5 1622.3)"><rect x="426.0" y="1615.8" width="95.0" height="13.0" rx="6.5" fill="rgb(0,0,0)"/></g>
<g filter="url(#b1)" opacity="1.0" transform="rotate(3.5 597.5 1627.3)"><rect x="549.0" y="1620.8" width="97.0" height="13.0" rx="6.5" fill="rgb(0,0,0)"/></g>
<text transform="translate(71.5 1779.0)" font-size="52" text-anchor="start" stroke-width="1.51">I</text>
<text transform="translate(150.0 1809.5)" font-size="39.8" text-anchor="start" textLength="82" lengthAdjust="spacingAndGlyphs" stroke-width="1.15">LPS</text>
<text transform="translate(49.0 1884.4)" font-size="39.8" text-anchor="start" textLength="235.5" lengthAdjust="spacingAndGlyphs" stroke-width="1.15">Regorafenib</text>
<text transform="translate(129.7 1991.1)" font-size="39.8" text-anchor="start" textLength="113.5" lengthAdjust="spacingAndGlyphs" stroke-width="1.15">p-P38</text>
<text transform="translate(131.8 2109.3)" font-size="39.8" text-anchor="start" textLength="75" lengthAdjust="spacingAndGlyphs" stroke-width="1.15">P38</text>
<text transform="translate(376.0 1810.6) scale(1.15 1)" font-size="36" text-anchor="middle" stroke-width="1.5">-</text>
<text transform="translate(490.8 1808.3)" font-size="36" text-anchor="middle" stroke-width="1.5">+</text>
<text transform="translate(598.5 1808.3)" font-size="36" text-anchor="middle" stroke-width="1.5">+</text>
<text transform="translate(373.3 1884.0) scale(1.15 1)" font-size="36" text-anchor="middle" stroke-width="1.5">-</text>
<text transform="translate(489.3 1884.0) scale(1.15 1)" font-size="36" text-anchor="middle" stroke-width="1.5">-</text>
<text transform="translate(597.3 1882.5)" font-size="36" text-anchor="middle" stroke-width="1.5">+</text>
<rect x="279.3" y="1928.3" width="388.5" height="95.2" fill="#f7f7f7" stroke="#101010" stroke-width="4.4" />
<rect x="279.3" y="2042.0" width="388.5" height="94.5" fill="#f7f7f7" stroke="#101010" stroke-width="4.4" />
<g filter="url(#b2)" opacity="1.0" transform="rotate(3 359.0 1980.0)"><rect x="315.0" y="1977.0" width="88.0" height="6.0" rx="3.0" fill="rgb(120,120,120)"/></g>
<g filter="url(#b1)" opacity="1" transform="rotate(2 479.5 1985.8)"><rect x="431.0" y="1981.3" width="97.0" height="9.0" rx="4.5" fill="rgb(15,15,15)"/><ellipse cx="445.4" cy="1985.8" rx="11.7" ry="5.4" fill="rgb(15,15,15)"/></g>
<g filter="url(#b1)" opacity="1" transform="rotate(0.5 599.0 1987.7)"><rect x="553.0" y="1983.5" width="92.0" height="8.5" rx="4.2" fill="rgb(25,25,25)"/><ellipse cx="566.6" cy="1987.7" rx="11.1" ry="5.1" fill="rgb(25,25,25)"/></g>
<g filter="url(#b1)" opacity="1.0" transform="rotate(1 357.5 2086.6)"><rect x="308.0" y="2078.6" width="99.0" height="16.0" rx="8.0" fill="rgb(0,0,0)"/></g>
<g filter="url(#b1)" opacity="1.0" transform="rotate(1.5 477.5 2087.7)"><rect x="426.0" y="2079.7" width="103.0" height="16.0" rx="8.0" fill="rgb(0,0,0)"/></g>
<g filter="url(#b1)" opacity="1.0" transform="rotate(0 599.5 2088.5)"><rect x="549.0" y="2080.5" width="101.0" height="16.0" rx="8.0" fill="rgb(0,0,0)"/></g>
<text transform="translate(63.0 3594.0)" font-size="49.5" text-anchor="start" stroke-width="1.7">Q</text>
<text transform="translate(227.3 3609.1)" font-size="39.8" text-anchor="start" textLength="82" lengthAdjust="spacingAndGlyphs" stroke-width="1.15">LPS</text>
<text transform="translate(125.3 3684.7)" font-size="39.8" text-anchor="start" textLength="235.5" lengthAdjust="spacingAndGlyphs" stroke-width="1.15">Regorafenib</text>
<text transform="translate(189.0 3809.5)" font-size="39.8" text-anchor="start" textLength="121.5" lengthAdjust="spacingAndGlyphs" stroke-width="1.15">p-AKT</text>
<text transform="translate(214.8 3919.5)" font-size="39.8" text-anchor="start" textLength="81.5" lengthAdjust="spacingAndGlyphs" stroke-width="1.15">AKT</text>
<text transform="translate(449.2 3608.5) scale(1.15 1)" font-size="36" text-anchor="middle" stroke-width="1.5">-</text>
<text transform="translate(573.6 3606.6)" font-size="36" text-anchor="middle" stroke-width="1.5">+</text>
<text transform="translate(697.3 3606.6)" font-size="36" text-anchor="middle" stroke-width="1.5">+</text>
<text transform="translate(446.5 3682.4) scale(1.15 1)" font-size="36" text-anchor="middle" stroke-width="1.5">-</text>
<text transform="translate(571.7 3682.4) scale(1.15 1)" font-size="36" text-anchor="middle" stroke-width="1.5">-</text>
<text transform="translate(696.2 3680.5)" font-size="36" text-anchor="middle" stroke-width="1.5">+</text>
<rect x="374.8" y="3720.5" width="396.9" height="97.1" fill="#f7f7f7" stroke="#101010" stroke-width="4.4" />
<rect x="374.8" y="3851.2" width="396.9" height="96.7" fill="#f7f7f7" stroke="#101010" stroke-width="4.4" />
<g filter="url(#b1)" opacity="1" transform="rotate(0 461.0 3768.9)"><rect x="421.0" y="3764.9" width="80.0" height="8.0" rx="4.0" fill="rgb(20,20,20)"/><ellipse cx="433.8" cy="3768.9" rx="10.4" ry="4.8" fill="rgb(20,20,20)"/><ellipse cx="488.2" cy="3768.9" rx="10.4" ry="4.8" fill="rgb(20,20,20)"/></g>
<g filter="url(#b1)" opacity="1" transform="rotate(-0.5 578.5 3766.1)"><rect x="532.0" y="3761.8" width="93.0" height="8.5" rx="4.2" fill="rgb(10,10,10)"/><ellipse cx="545.6" cy="3766.1" rx="11.1" ry="5.1" fill="rgb(10,10,10)"/><ellipse cx="611.4" cy="3766.1" rx="11.1" ry="5.1" fill="rgb(10,10,10)"/></g>
<g filter="url(#b1)" opacity="1" transform="rotate(-1.5 702.0 3764.2)"><rect x="660.0" y="3760.7" width="84.0" height="7.0" rx="3.5" fill="rgb(80,80,80)"/><ellipse cx="732.8" cy="3764.2" rx="9.1" ry="4.2" fill="rgb(80,80,80)"/></g>
<g filter="url(#b1)" opacity="1" transform="rotate(0 456.5 3905.4)"><rect x="410.0" y="3898.9" width="93.0" height="13.0" rx="6.5" fill="rgb(0,0,0)"/><ellipse cx="430.8" cy="3905.4" rx="16.9" ry="7.8" fill="rgb(0,0,0)"/><ellipse cx="482.2" cy="3905.4" rx="16.9" ry="7.8" fill="rgb(0,0,0)"/></g>
<g filter="url(#b1)" opacity="1" transform="rotate(-1.5 582.0 3903.0)"><rect x="530.0" y="3896.5" width="104.0" height="13.0" rx="6.5" fill="rgb(0,0,0)"/><ellipse cx="550.8" cy="3903.0" rx="16.9" ry="7.8" fill="rgb(0,0,0)"/><ellipse cx="613.2" cy="3903.0" rx="16.9" ry="7.8" fill="rgb(0,0,0)"/></g>
<g filter="url(#b1)" opacity="1" transform="rotate(0 708.5 3902.3)"><rect x="661.0" y="3895.8" width="95.0" height="13.0" rx="6.5" fill="rgb(0,0,0)"/><ellipse cx="681.8" cy="3902.3" rx="16.9" ry="7.8" fill="rgb(0,0,0)"/><ellipse cx="735.2" cy="3902.3" rx="16.9" ry="7.8" fill="rgb(0,0,0)"/></g>
<text transform="translate(63.7 4032.5)" font-size="52" text-anchor="start" stroke-width="1.7">T</text>
<text transform="translate(257.6 4057.3)" font-size="39.8" text-anchor="start" textLength="82" lengthAdjust="spacingAndGlyphs" stroke-width="1.15">LPS</text>
<text transform="translate(156.0 4132.9)" font-size="39.8" text-anchor="start" textLength="235.5" lengthAdjust="spacingAndGlyphs" stroke-width="1.15">Regorafenib</text>
<text transform="translate(214.6 4234.7)" font-size="39.8" text-anchor="start" textLength="113.5" lengthAdjust="spacingAndGlyphs" stroke-width="1.15">p-P38</text>
<text transform="translate(215.7 4353.9)" font-size="39.8" text-anchor="start" textLength="75" lengthAdjust="spacingAndGlyphs" stroke-width="1.15">P38</text>
<text transform="translate(483.2 4058.8) scale(1.15 1)" font-size="36" text-anchor="middle" stroke-width="1.5">-</text>
<text transform="translate(597.3 4055.7)" font-size="36" text-anchor="middle" stroke-width="1.5">+</text>
<text transform="translate(705.0 4055.7)" font-size="36" text-anchor="middle" stroke-width="1.5">+</text>
<text transform="translate(480.4 4131.6) scale(1.15 1)" font-size="36" text-anchor="middle" stroke-width="1.5">-</text>
<text transform="translate(596.5 4131.6) scale(1.15 1)" font-size="36" text-anchor="middle" stroke-width="1.5">-</text>
<text transform="translate(703.9 4130.0)" font-size="36" text-anchor="middle" stroke-width="1.5">+</text>
<rect x="352.0" y="4158.0" width="460.0" height="124.0" fill="#fcfcfc" />
<rect x="385.2" y="4170.3" width="395.2" height="95.8" fill="#f7f7f7" stroke="#101010" stroke-width="4.4" />
<rect x="381.2" y="4293.6" width="403.9" height="93.0" fill="#f7f7f7" stroke="#101010" stroke-width="4.4" />
<g filter="url(#b2)" opacity="1" transform="rotate(0 472.0 4221.4)"><rect x="437.0" y="4218.1" width="70.0" height="6.5" rx="3.2" fill="rgb(150,150,150)"/><ellipse cx="447.4" cy="4221.4" rx="8.5" ry="3.9" fill="rgb(150,150,150)"/></g>
<g filter="url(#b1)" opacity="1" transform="rotate(-1 589.5 4221.4)"><rect x="550.0" y="4217.6" width="79.0" height="7.5" rx="3.8" fill="rgb(85,85,85)"/><ellipse cx="617.0" cy="4221.4" rx="9.8" ry="4.5" fill="rgb(85,85,85)"/></g>
<g filter="url(#b2)" opacity="1.0" transform="rotate(0 707.5 4219.8)"><rect x="667.0" y="4216.8" width="81.0" height="6.0" rx="3.0" fill="rgb(205,205,205)"/></g>
<g filter="url(#b1)" opacity="1" transform="rotate(0 457.5 4345.8)"><rect x="406.0" y="4339.1" width="103.0" height="13.5" rx="6.8" fill="rgb(0,0,0)"/><ellipse cx="427.6" cy="4345.8" rx="17.6" ry="8.1" fill="rgb(0,0,0)"/><ellipse cx="487.4" cy="4345.8" rx="17.6" ry="8.1" fill="rgb(0,0,0)"/></g>
<g filter="url(#b1)" opacity="1" transform="rotate(0 585.5 4345.8)"><rect x="531.0" y="4339.1" width="109.0" height="13.5" rx="6.8" fill="rgb(0,0,0)"/><ellipse cx="552.6" cy="4345.8" rx="17.6" ry="8.1" fill="rgb(0,0,0)"/><ellipse cx="618.4" cy="4345.8" rx="17.6" ry="8.1" fill="rgb(0,0,0)"/></g>
<g filter="url(#b1)" opacity="1" transform="rotate(0 715.0 4345.8)"><rect x="662.0" y="4339.1" width="106.0" height="13.5" rx="6.8" fill="rgb(0,0,0)"/><ellipse cx="683.6" cy="4345.8" rx="17.6" ry="8.1" fill="rgb(0,0,0)"/><ellipse cx="746.4" cy="4345.8" rx="17.6" ry="8.1" fill="rgb(0,0,0)"/></g>
</g>
</svg>
</body>
</html>
